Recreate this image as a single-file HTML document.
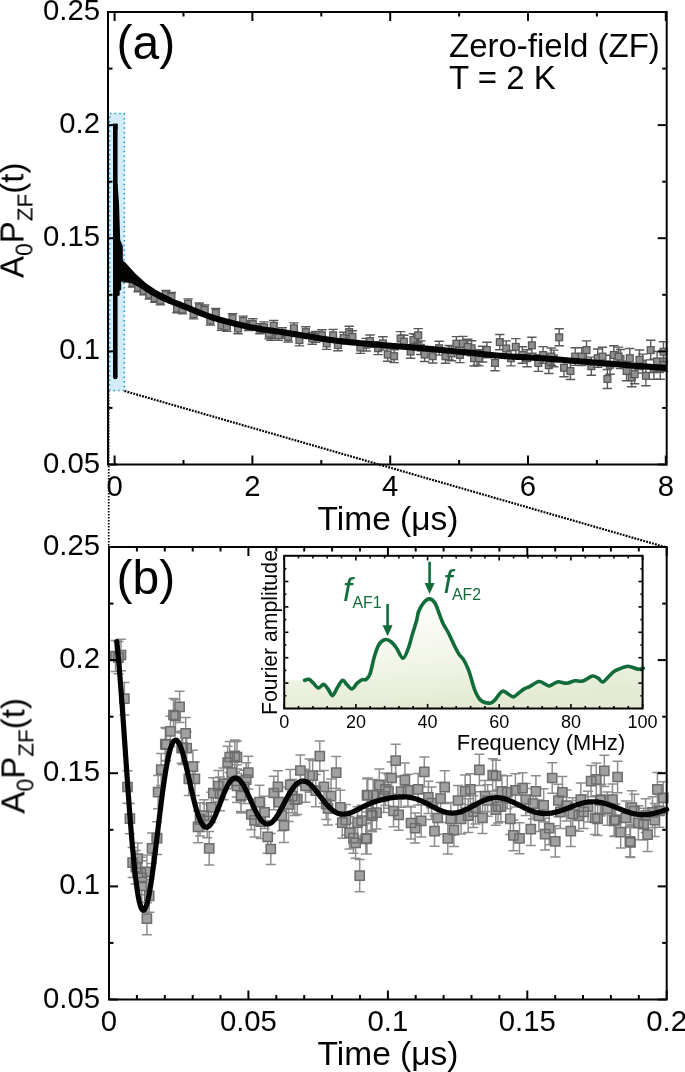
<!DOCTYPE html>
<html><head><meta charset="utf-8"><style>
html,body{margin:0;padding:0;background:#fff;}
body{width:685px;height:1072px;overflow:hidden;}
svg{display:block;}

text{font-family:"Liberation Sans",sans-serif;fill:#000;}
</style></head><body>
<div><svg width="685" height="1072" viewBox="0 0 685 1072">
<g style="opacity:0.99">
<rect x="108" y="112.8" width="16.6" height="278" fill="#d2ecfa"/>
<path d="M109.6,390.5 V113.5 H124.3 V390.5 H109.6" fill="none" stroke="#1e9ad6" stroke-width="1.6" stroke-dasharray="1.5 3.2"/>
<path d="M127.0,274.4V282.1M122.3,274.4h9.4M122.3,282.1h9.4" stroke="#575757" stroke-width="1.4" fill="none"/><rect x="123.6" y="274.8" width="6.8" height="6.8" fill="#8e8e8e" stroke="#575757" stroke-width="1.3"/>
<path d="M132.6,278.9V287.0M127.9,278.9h9.4M127.9,287.0h9.4" stroke="#575757" stroke-width="1.4" fill="none"/><rect x="129.2" y="279.6" width="6.8" height="6.8" fill="#8e8e8e" stroke="#575757" stroke-width="1.3"/>
<path d="M138.1,283.7V291.7M133.4,283.7h9.4M133.4,291.7h9.4" stroke="#575757" stroke-width="1.4" fill="none"/><rect x="134.7" y="284.3" width="6.8" height="6.8" fill="#8e8e8e" stroke="#575757" stroke-width="1.3"/>
<path d="M143.7,287.1V294.9M139.0,287.1h9.4M139.0,294.9h9.4" stroke="#575757" stroke-width="1.4" fill="none"/><rect x="140.3" y="287.6" width="6.8" height="6.8" fill="#8e8e8e" stroke="#575757" stroke-width="1.3"/>
<path d="M149.2,290.5V299.1M144.5,290.5h9.4M144.5,299.1h9.4" stroke="#575757" stroke-width="1.4" fill="none"/><rect x="145.8" y="291.4" width="6.8" height="6.8" fill="#8e8e8e" stroke="#575757" stroke-width="1.3"/>
<path d="M154.8,294.3V302.2M150.1,294.3h9.4M150.1,302.2h9.4" stroke="#575757" stroke-width="1.4" fill="none"/><rect x="151.4" y="294.8" width="6.8" height="6.8" fill="#8e8e8e" stroke="#575757" stroke-width="1.3"/>
<path d="M160.3,296.3V304.9M155.6,296.3h9.4M155.6,304.9h9.4" stroke="#575757" stroke-width="1.4" fill="none"/><rect x="156.9" y="297.2" width="6.8" height="6.8" fill="#8e8e8e" stroke="#575757" stroke-width="1.3"/>
<path d="M165.9,290.5V298.5M161.2,290.5h9.4M161.2,298.5h9.4" stroke="#575757" stroke-width="1.4" fill="none"/><rect x="162.5" y="291.1" width="6.8" height="6.8" fill="#8e8e8e" stroke="#575757" stroke-width="1.3"/>
<path d="M171.4,292.5V301.0M166.7,292.5h9.4M166.7,301.0h9.4" stroke="#575757" stroke-width="1.4" fill="none"/><rect x="168.0" y="293.3" width="6.8" height="6.8" fill="#8e8e8e" stroke="#575757" stroke-width="1.3"/>
<path d="M177.0,304.5V312.8M172.3,304.5h9.4M172.3,312.8h9.4" stroke="#575757" stroke-width="1.4" fill="none"/><rect x="173.6" y="305.2" width="6.8" height="6.8" fill="#8e8e8e" stroke="#575757" stroke-width="1.3"/>
<path d="M182.5,305.4V313.9M177.8,305.4h9.4M177.8,313.9h9.4" stroke="#575757" stroke-width="1.4" fill="none"/><rect x="179.1" y="306.2" width="6.8" height="6.8" fill="#8e8e8e" stroke="#575757" stroke-width="1.3"/>
<path d="M188.1,298.9V308.4M183.4,298.9h9.4M183.4,308.4h9.4" stroke="#575757" stroke-width="1.4" fill="none"/><rect x="184.7" y="300.3" width="6.8" height="6.8" fill="#8e8e8e" stroke="#575757" stroke-width="1.3"/>
<path d="M193.6,309.5V318.9M188.9,309.5h9.4M188.9,318.9h9.4" stroke="#575757" stroke-width="1.4" fill="none"/><rect x="190.2" y="310.8" width="6.8" height="6.8" fill="#8e8e8e" stroke="#575757" stroke-width="1.3"/>
<path d="M199.2,303.0V311.9M194.5,303.0h9.4M194.5,311.9h9.4" stroke="#575757" stroke-width="1.4" fill="none"/><rect x="195.8" y="304.1" width="6.8" height="6.8" fill="#8e8e8e" stroke="#575757" stroke-width="1.3"/>
<path d="M204.7,305.0V314.7M200.0,305.0h9.4M200.0,314.7h9.4" stroke="#575757" stroke-width="1.4" fill="none"/><rect x="201.3" y="306.5" width="6.8" height="6.8" fill="#8e8e8e" stroke="#575757" stroke-width="1.3"/>
<path d="M210.3,316.2V325.1M205.6,316.2h9.4M205.6,325.1h9.4" stroke="#575757" stroke-width="1.4" fill="none"/><rect x="206.9" y="317.2" width="6.8" height="6.8" fill="#8e8e8e" stroke="#575757" stroke-width="1.3"/>
<path d="M215.8,308.5V317.8M211.1,308.5h9.4M211.1,317.8h9.4" stroke="#575757" stroke-width="1.4" fill="none"/><rect x="212.4" y="309.7" width="6.8" height="6.8" fill="#8e8e8e" stroke="#575757" stroke-width="1.3"/>
<path d="M221.4,320.5V330.4M216.7,320.5h9.4M216.7,330.4h9.4" stroke="#575757" stroke-width="1.4" fill="none"/><rect x="218.0" y="322.1" width="6.8" height="6.8" fill="#8e8e8e" stroke="#575757" stroke-width="1.3"/>
<path d="M226.9,321.6V331.4M222.2,321.6h9.4M222.2,331.4h9.4" stroke="#575757" stroke-width="1.4" fill="none"/><rect x="223.5" y="323.1" width="6.8" height="6.8" fill="#8e8e8e" stroke="#575757" stroke-width="1.3"/>
<path d="M232.5,313.7V322.9M227.8,313.7h9.4M227.8,322.9h9.4" stroke="#575757" stroke-width="1.4" fill="none"/><rect x="229.1" y="314.9" width="6.8" height="6.8" fill="#8e8e8e" stroke="#575757" stroke-width="1.3"/>
<path d="M238.0,323.3V333.7M233.3,323.3h9.4M233.3,333.7h9.4" stroke="#575757" stroke-width="1.4" fill="none"/><rect x="234.6" y="325.1" width="6.8" height="6.8" fill="#8e8e8e" stroke="#575757" stroke-width="1.3"/>
<path d="M248.5,320.8V330.5M243.8,320.8h9.4M243.8,330.5h9.4" stroke="#575757" stroke-width="1.4" fill="none"/><rect x="245.1" y="322.3" width="6.8" height="6.8" fill="#8e8e8e" stroke="#575757" stroke-width="1.3"/>
<path d="M259.8,323.8V333.7M255.1,323.8h9.4M255.1,333.7h9.4" stroke="#575757" stroke-width="1.4" fill="none"/><rect x="256.4" y="325.3" width="6.8" height="6.8" fill="#8e8e8e" stroke="#575757" stroke-width="1.3"/>
<path d="M271.0,329.4V340.2M266.3,329.4h9.4M266.3,340.2h9.4" stroke="#575757" stroke-width="1.4" fill="none"/><rect x="267.6" y="331.4" width="6.8" height="6.8" fill="#8e8e8e" stroke="#575757" stroke-width="1.3"/>
<path d="M282.3,327.8V338.3M277.6,327.8h9.4M277.6,338.3h9.4" stroke="#575757" stroke-width="1.4" fill="none"/><rect x="278.9" y="329.7" width="6.8" height="6.8" fill="#8e8e8e" stroke="#575757" stroke-width="1.3"/>
<path d="M293.9,322.9V333.6M289.2,322.9h9.4M289.2,333.6h9.4" stroke="#575757" stroke-width="1.4" fill="none"/><rect x="290.5" y="324.9" width="6.8" height="6.8" fill="#8e8e8e" stroke="#575757" stroke-width="1.3"/>
<path d="M315.7,331.5V342.4M311.0,331.5h9.4M311.0,342.4h9.4" stroke="#575757" stroke-width="1.4" fill="none"/><rect x="312.3" y="333.5" width="6.8" height="6.8" fill="#8e8e8e" stroke="#575757" stroke-width="1.3"/>
<path d="M343.6,332.3V343.8M338.9,332.3h9.4M338.9,343.8h9.4" stroke="#575757" stroke-width="1.4" fill="none"/><rect x="340.2" y="334.6" width="6.8" height="6.8" fill="#8e8e8e" stroke="#575757" stroke-width="1.3"/>
<path d="M366.2,338.4V351.0M361.5,338.4h9.4M361.5,351.0h9.4" stroke="#575757" stroke-width="1.4" fill="none"/><rect x="362.8" y="341.3" width="6.8" height="6.8" fill="#8e8e8e" stroke="#575757" stroke-width="1.3"/>
<path d="M410.6,344.9V358.2M405.9,344.9h9.4M405.9,358.2h9.4" stroke="#575757" stroke-width="1.4" fill="none"/><rect x="407.2" y="348.1" width="6.8" height="6.8" fill="#8e8e8e" stroke="#575757" stroke-width="1.3"/>
<path d="M415.4,334.0V347.7M410.7,334.0h9.4M410.7,347.7h9.4" stroke="#575757" stroke-width="1.4" fill="none"/><rect x="412.0" y="337.4" width="6.8" height="6.8" fill="#8e8e8e" stroke="#575757" stroke-width="1.3"/>
<path d="M420.8,340.9V354.5M416.1,340.9h9.4M416.1,354.5h9.4" stroke="#575757" stroke-width="1.4" fill="none"/><rect x="417.4" y="344.3" width="6.8" height="6.8" fill="#8e8e8e" stroke="#575757" stroke-width="1.3"/>
<path d="M449.2,345.5V359.9M444.5,345.5h9.4M444.5,359.9h9.4" stroke="#575757" stroke-width="1.4" fill="none"/><rect x="445.8" y="349.3" width="6.8" height="6.8" fill="#8e8e8e" stroke="#575757" stroke-width="1.3"/>
<path d="M459.9,347.3V362.6M455.2,347.3h9.4M455.2,362.6h9.4" stroke="#575757" stroke-width="1.4" fill="none"/><rect x="456.5" y="351.5" width="6.8" height="6.8" fill="#8e8e8e" stroke="#575757" stroke-width="1.3"/>
<path d="M471.6,340.8V355.8M466.9,340.8h9.4M466.9,355.8h9.4" stroke="#575757" stroke-width="1.4" fill="none"/><rect x="468.2" y="344.9" width="6.8" height="6.8" fill="#8e8e8e" stroke="#575757" stroke-width="1.3"/>
<path d="M477.1,349.8V365.1M472.4,349.8h9.4M472.4,365.1h9.4" stroke="#575757" stroke-width="1.4" fill="none"/><rect x="473.7" y="354.0" width="6.8" height="6.8" fill="#8e8e8e" stroke="#575757" stroke-width="1.3"/>
<path d="M482.7,346.3V362.0M478.0,346.3h9.4M478.0,362.0h9.4" stroke="#575757" stroke-width="1.4" fill="none"/><rect x="479.3" y="350.7" width="6.8" height="6.8" fill="#8e8e8e" stroke="#575757" stroke-width="1.3"/>
<path d="M548.8,356.9V373.5M544.1,356.9h9.4M544.1,373.5h9.4" stroke="#575757" stroke-width="1.4" fill="none"/><rect x="545.4" y="361.8" width="6.8" height="6.8" fill="#8e8e8e" stroke="#575757" stroke-width="1.3"/>
<path d="M553.8,350.1V366.7M549.1,350.1h9.4M549.1,366.7h9.4" stroke="#575757" stroke-width="1.4" fill="none"/><rect x="550.4" y="355.0" width="6.8" height="6.8" fill="#8e8e8e" stroke="#575757" stroke-width="1.3"/>
<path d="M610.0,355.3V374.3M605.3,355.3h9.4M605.3,374.3h9.4" stroke="#575757" stroke-width="1.4" fill="none"/><rect x="606.6" y="361.4" width="6.8" height="6.8" fill="#8e8e8e" stroke="#575757" stroke-width="1.3"/>
<path d="M620.5,349.5V368.6M615.8,349.5h9.4M615.8,368.6h9.4" stroke="#575757" stroke-width="1.4" fill="none"/><rect x="617.1" y="355.7" width="6.8" height="6.8" fill="#8e8e8e" stroke="#575757" stroke-width="1.3"/>
<path d="M631.8,368.0V386.7M627.1,368.0h9.4M627.1,386.7h9.4" stroke="#575757" stroke-width="1.4" fill="none"/><rect x="628.4" y="374.0" width="6.8" height="6.8" fill="#8e8e8e" stroke="#575757" stroke-width="1.3"/>
<path d="M642.7,354.1V373.0M638.0,354.1h9.4M638.0,373.0h9.4" stroke="#575757" stroke-width="1.4" fill="none"/><rect x="639.3" y="360.2" width="6.8" height="6.8" fill="#8e8e8e" stroke="#575757" stroke-width="1.3"/>
<path d="M653.9,359.3V379.2M649.2,359.3h9.4M649.2,379.2h9.4" stroke="#575757" stroke-width="1.4" fill="none"/><rect x="650.5" y="365.9" width="6.8" height="6.8" fill="#8e8e8e" stroke="#575757" stroke-width="1.3"/>
<path d="M660.2,358.9V379.3M655.5,358.9h9.4M655.5,379.3h9.4" stroke="#575757" stroke-width="1.4" fill="none"/><rect x="656.8" y="365.7" width="6.8" height="6.8" fill="#8e8e8e" stroke="#575757" stroke-width="1.3"/>
<path d="M243.2,316.1V325.7M238.5,316.1h9.4M238.5,325.7h9.4" stroke="#575757" stroke-width="1.4" fill="none"/><rect x="239.8" y="317.5" width="6.8" height="6.8" fill="#8e8e8e" stroke="#575757" stroke-width="1.3"/>
<path d="M252.8,318.8V329.4M248.1,318.8h9.4M248.1,329.4h9.4" stroke="#575757" stroke-width="1.4" fill="none"/><rect x="249.4" y="320.7" width="6.8" height="6.8" fill="#8e8e8e" stroke="#575757" stroke-width="1.3"/>
<path d="M264.1,321.9V332.7M259.4,321.9h9.4M259.4,332.7h9.4" stroke="#575757" stroke-width="1.4" fill="none"/><rect x="260.7" y="323.9" width="6.8" height="6.8" fill="#8e8e8e" stroke="#575757" stroke-width="1.3"/>
<path d="M273.7,320.4V331.0M269.0,320.4h9.4M269.0,331.0h9.4" stroke="#575757" stroke-width="1.4" fill="none"/><rect x="270.3" y="322.3" width="6.8" height="6.8" fill="#8e8e8e" stroke="#575757" stroke-width="1.3"/>
<path d="M268.9,328.5V338.9M264.2,328.5h9.4M264.2,338.9h9.4" stroke="#575757" stroke-width="1.4" fill="none"/><rect x="265.5" y="330.3" width="6.8" height="6.8" fill="#8e8e8e" stroke="#575757" stroke-width="1.3"/>
<path d="M278.5,330.2V340.4M273.8,330.2h9.4M273.8,340.4h9.4" stroke="#575757" stroke-width="1.4" fill="none"/><rect x="275.1" y="331.9" width="6.8" height="6.8" fill="#8e8e8e" stroke="#575757" stroke-width="1.3"/>
<path d="M288.2,331.8V342.0M283.5,331.8h9.4M283.5,342.0h9.4" stroke="#575757" stroke-width="1.4" fill="none"/><rect x="284.8" y="333.5" width="6.8" height="6.8" fill="#8e8e8e" stroke="#575757" stroke-width="1.3"/>
<path d="M299.4,334.3V345.9M294.7,334.3h9.4M294.7,345.9h9.4" stroke="#575757" stroke-width="1.4" fill="none"/><rect x="296.0" y="336.7" width="6.8" height="6.8" fill="#8e8e8e" stroke="#575757" stroke-width="1.3"/>
<path d="M305.8,326.7V337.5M301.1,326.7h9.4M301.1,337.5h9.4" stroke="#575757" stroke-width="1.4" fill="none"/><rect x="302.4" y="328.7" width="6.8" height="6.8" fill="#8e8e8e" stroke="#575757" stroke-width="1.3"/>
<path d="M312.3,332.7V344.3M307.6,332.7h9.4M307.6,344.3h9.4" stroke="#575757" stroke-width="1.4" fill="none"/><rect x="308.9" y="335.1" width="6.8" height="6.8" fill="#8e8e8e" stroke="#575757" stroke-width="1.3"/>
<path d="M321.9,329.7V340.9M317.2,329.7h9.4M317.2,340.9h9.4" stroke="#575757" stroke-width="1.4" fill="none"/><rect x="318.5" y="331.9" width="6.8" height="6.8" fill="#8e8e8e" stroke="#575757" stroke-width="1.3"/>
<path d="M326.7,337.4V349.4M322.0,337.4h9.4M322.0,349.4h9.4" stroke="#575757" stroke-width="1.4" fill="none"/><rect x="323.3" y="340.0" width="6.8" height="6.8" fill="#8e8e8e" stroke="#575757" stroke-width="1.3"/>
<path d="M333.1,329.4V341.2M328.4,329.4h9.4M328.4,341.2h9.4" stroke="#575757" stroke-width="1.4" fill="none"/><rect x="329.7" y="331.9" width="6.8" height="6.8" fill="#8e8e8e" stroke="#575757" stroke-width="1.3"/>
<path d="M337.9,339.2V350.8M333.2,339.2h9.4M333.2,350.8h9.4" stroke="#575757" stroke-width="1.4" fill="none"/><rect x="334.5" y="341.6" width="6.8" height="6.8" fill="#8e8e8e" stroke="#575757" stroke-width="1.3"/>
<path d="M349.2,326.2V338.0M344.5,326.2h9.4M344.5,338.0h9.4" stroke="#575757" stroke-width="1.4" fill="none"/><rect x="345.8" y="328.7" width="6.8" height="6.8" fill="#8e8e8e" stroke="#575757" stroke-width="1.3"/>
<path d="M352.4,330.7V343.1M347.7,330.7h9.4M347.7,343.1h9.4" stroke="#575757" stroke-width="1.4" fill="none"/><rect x="349.0" y="333.5" width="6.8" height="6.8" fill="#8e8e8e" stroke="#575757" stroke-width="1.3"/>
<path d="M360.4,341.6V353.4M355.7,341.6h9.4M355.7,353.4h9.4" stroke="#575757" stroke-width="1.4" fill="none"/><rect x="357.0" y="344.1" width="6.8" height="6.8" fill="#8e8e8e" stroke="#575757" stroke-width="1.3"/>
<path d="M370.0,335.0V347.2M365.3,335.0h9.4M365.3,347.2h9.4" stroke="#575757" stroke-width="1.4" fill="none"/><rect x="366.6" y="337.7" width="6.8" height="6.8" fill="#8e8e8e" stroke="#575757" stroke-width="1.3"/>
<path d="M378.1,341.8V354.6M373.4,341.8h9.4M373.4,354.6h9.4" stroke="#575757" stroke-width="1.4" fill="none"/><rect x="374.7" y="344.8" width="6.8" height="6.8" fill="#8e8e8e" stroke="#575757" stroke-width="1.3"/>
<path d="M382.9,336.7V350.1M378.2,336.7h9.4M378.2,350.1h9.4" stroke="#575757" stroke-width="1.4" fill="none"/><rect x="379.5" y="340.0" width="6.8" height="6.8" fill="#8e8e8e" stroke="#575757" stroke-width="1.3"/>
<path d="M387.7,348.0V361.2M383.0,348.0h9.4M383.0,361.2h9.4" stroke="#575757" stroke-width="1.4" fill="none"/><rect x="384.3" y="351.2" width="6.8" height="6.8" fill="#8e8e8e" stroke="#575757" stroke-width="1.3"/>
<path d="M394.1,349.8V362.6M389.4,349.8h9.4M389.4,362.6h9.4" stroke="#575757" stroke-width="1.4" fill="none"/><rect x="390.7" y="352.8" width="6.8" height="6.8" fill="#8e8e8e" stroke="#575757" stroke-width="1.3"/>
<path d="M400.6,331.6V345.4M395.9,331.6h9.4M395.9,345.4h9.4" stroke="#575757" stroke-width="1.4" fill="none"/><rect x="397.2" y="335.1" width="6.8" height="6.8" fill="#8e8e8e" stroke="#575757" stroke-width="1.3"/>
<path d="M403.8,335.2V348.2M399.1,335.2h9.4M399.1,348.2h9.4" stroke="#575757" stroke-width="1.4" fill="none"/><rect x="400.4" y="338.3" width="6.8" height="6.8" fill="#8e8e8e" stroke="#575757" stroke-width="1.3"/>
<path d="M413.4,333.6V346.6M408.7,333.6h9.4M408.7,346.6h9.4" stroke="#575757" stroke-width="1.4" fill="none"/><rect x="410.0" y="336.7" width="6.8" height="6.8" fill="#8e8e8e" stroke="#575757" stroke-width="1.3"/>
<path d="M418.2,328.6V342.0M413.5,328.6h9.4M413.5,342.0h9.4" stroke="#575757" stroke-width="1.4" fill="none"/><rect x="414.8" y="331.9" width="6.8" height="6.8" fill="#8e8e8e" stroke="#575757" stroke-width="1.3"/>
<path d="M424.6,347.7V361.5M419.9,347.7h9.4M419.9,361.5h9.4" stroke="#575757" stroke-width="1.4" fill="none"/><rect x="421.2" y="351.2" width="6.8" height="6.8" fill="#8e8e8e" stroke="#575757" stroke-width="1.3"/>
<path d="M432.7,349.4V363.0M428.0,349.4h9.4M428.0,363.0h9.4" stroke="#575757" stroke-width="1.4" fill="none"/><rect x="429.3" y="352.8" width="6.8" height="6.8" fill="#8e8e8e" stroke="#575757" stroke-width="1.3"/>
<path d="M439.1,341.3V355.1M434.4,341.3h9.4M434.4,355.1h9.4" stroke="#575757" stroke-width="1.4" fill="none"/><rect x="435.7" y="344.8" width="6.8" height="6.8" fill="#8e8e8e" stroke="#575757" stroke-width="1.3"/>
<path d="M445.5,349.1V363.3M440.8,349.1h9.4M440.8,363.3h9.4" stroke="#575757" stroke-width="1.4" fill="none"/><rect x="442.1" y="352.8" width="6.8" height="6.8" fill="#8e8e8e" stroke="#575757" stroke-width="1.3"/>
<path d="M451.6,346.1V360.7M446.9,346.1h9.4M446.9,360.7h9.4" stroke="#575757" stroke-width="1.4" fill="none"/><rect x="448.2" y="350.0" width="6.8" height="6.8" fill="#8e8e8e" stroke="#575757" stroke-width="1.3"/>
<path d="M456.4,336.6V350.8M451.7,336.6h9.4M451.7,350.8h9.4" stroke="#575757" stroke-width="1.4" fill="none"/><rect x="453.0" y="340.3" width="6.8" height="6.8" fill="#8e8e8e" stroke="#575757" stroke-width="1.3"/>
<path d="M462.8,336.4V351.0M458.1,336.4h9.4M458.1,351.0h9.4" stroke="#575757" stroke-width="1.4" fill="none"/><rect x="459.4" y="340.3" width="6.8" height="6.8" fill="#8e8e8e" stroke="#575757" stroke-width="1.3"/>
<path d="M467.7,339.2V354.6M463.0,339.2h9.4M463.0,354.6h9.4" stroke="#575757" stroke-width="1.4" fill="none"/><rect x="464.3" y="343.5" width="6.8" height="6.8" fill="#8e8e8e" stroke="#575757" stroke-width="1.3"/>
<path d="M474.1,350.4V366.0M469.4,350.4h9.4M469.4,366.0h9.4" stroke="#575757" stroke-width="1.4" fill="none"/><rect x="470.7" y="354.8" width="6.8" height="6.8" fill="#8e8e8e" stroke="#575757" stroke-width="1.3"/>
<path d="M478.9,350.5V365.9M474.2,350.5h9.4M474.2,365.9h9.4" stroke="#575757" stroke-width="1.4" fill="none"/><rect x="475.5" y="354.8" width="6.8" height="6.8" fill="#8e8e8e" stroke="#575757" stroke-width="1.3"/>
<path d="M486.9,342.3V357.9M482.2,342.3h9.4M482.2,357.9h9.4" stroke="#575757" stroke-width="1.4" fill="none"/><rect x="483.5" y="346.7" width="6.8" height="6.8" fill="#8e8e8e" stroke="#575757" stroke-width="1.3"/>
<path d="M495.0,355.2V370.8M490.3,355.2h9.4M490.3,370.8h9.4" stroke="#575757" stroke-width="1.4" fill="none"/><rect x="491.6" y="359.6" width="6.8" height="6.8" fill="#8e8e8e" stroke="#575757" stroke-width="1.3"/>
<path d="M499.8,334.5V349.7M495.1,334.5h9.4M495.1,349.7h9.4" stroke="#575757" stroke-width="1.4" fill="none"/><rect x="496.4" y="338.7" width="6.8" height="6.8" fill="#8e8e8e" stroke="#575757" stroke-width="1.3"/>
<path d="M506.2,340.9V356.1M501.5,340.9h9.4M501.5,356.1h9.4" stroke="#575757" stroke-width="1.4" fill="none"/><rect x="502.8" y="345.1" width="6.8" height="6.8" fill="#8e8e8e" stroke="#575757" stroke-width="1.3"/>
<path d="M511.0,350.5V365.9M506.3,350.5h9.4M506.3,365.9h9.4" stroke="#575757" stroke-width="1.4" fill="none"/><rect x="507.6" y="354.8" width="6.8" height="6.8" fill="#8e8e8e" stroke="#575757" stroke-width="1.3"/>
<path d="M515.8,338.6V355.2M511.1,338.6h9.4M511.1,355.2h9.4" stroke="#575757" stroke-width="1.4" fill="none"/><rect x="512.4" y="343.5" width="6.8" height="6.8" fill="#8e8e8e" stroke="#575757" stroke-width="1.3"/>
<path d="M522.3,346.8V363.2M517.6,346.8h9.4M517.6,363.2h9.4" stroke="#575757" stroke-width="1.4" fill="none"/><rect x="518.9" y="351.6" width="6.8" height="6.8" fill="#8e8e8e" stroke="#575757" stroke-width="1.3"/>
<path d="M527.1,349.7V366.7M522.4,349.7h9.4M522.4,366.7h9.4" stroke="#575757" stroke-width="1.4" fill="none"/><rect x="523.7" y="354.8" width="6.8" height="6.8" fill="#8e8e8e" stroke="#575757" stroke-width="1.3"/>
<path d="M531.9,337.3V353.3M527.2,337.3h9.4M527.2,353.3h9.4" stroke="#575757" stroke-width="1.4" fill="none"/><rect x="528.5" y="341.9" width="6.8" height="6.8" fill="#8e8e8e" stroke="#575757" stroke-width="1.3"/>
<path d="M538.3,354.6V371.4M533.6,354.6h9.4M533.6,371.4h9.4" stroke="#575757" stroke-width="1.4" fill="none"/><rect x="534.9" y="359.6" width="6.8" height="6.8" fill="#8e8e8e" stroke="#575757" stroke-width="1.3"/>
<path d="M543.1,346.6V363.4M538.4,346.6h9.4M538.4,363.4h9.4" stroke="#575757" stroke-width="1.4" fill="none"/><rect x="539.7" y="351.6" width="6.8" height="6.8" fill="#8e8e8e" stroke="#575757" stroke-width="1.3"/>
<path d="M551.2,348.0V365.2M546.5,348.0h9.4M546.5,365.2h9.4" stroke="#575757" stroke-width="1.4" fill="none"/><rect x="547.8" y="353.2" width="6.8" height="6.8" fill="#8e8e8e" stroke="#575757" stroke-width="1.3"/>
<path d="M559.2,328.8V345.8M554.5,328.8h9.4M554.5,345.8h9.4" stroke="#575757" stroke-width="1.4" fill="none"/><rect x="555.8" y="333.9" width="6.8" height="6.8" fill="#8e8e8e" stroke="#575757" stroke-width="1.3"/>
<path d="M564.0,358.8V376.8M559.3,358.8h9.4M559.3,376.8h9.4" stroke="#575757" stroke-width="1.4" fill="none"/><rect x="560.6" y="364.4" width="6.8" height="6.8" fill="#8e8e8e" stroke="#575757" stroke-width="1.3"/>
<path d="M570.4,362.5V379.5M565.7,362.5h9.4M565.7,379.5h9.4" stroke="#575757" stroke-width="1.4" fill="none"/><rect x="567.0" y="367.6" width="6.8" height="6.8" fill="#8e8e8e" stroke="#575757" stroke-width="1.3"/>
<path d="M575.2,347.8V365.4M570.5,347.8h9.4M570.5,365.4h9.4" stroke="#575757" stroke-width="1.4" fill="none"/><rect x="571.8" y="353.2" width="6.8" height="6.8" fill="#8e8e8e" stroke="#575757" stroke-width="1.3"/>
<path d="M581.7,347.6V365.6M577.0,347.6h9.4M577.0,365.6h9.4" stroke="#575757" stroke-width="1.4" fill="none"/><rect x="578.3" y="353.2" width="6.8" height="6.8" fill="#8e8e8e" stroke="#575757" stroke-width="1.3"/>
<path d="M586.5,340.9V359.3M581.8,340.9h9.4M581.8,359.3h9.4" stroke="#575757" stroke-width="1.4" fill="none"/><rect x="583.1" y="346.7" width="6.8" height="6.8" fill="#8e8e8e" stroke="#575757" stroke-width="1.3"/>
<path d="M591.3,357.1V375.3M586.6,357.1h9.4M586.6,375.3h9.4" stroke="#575757" stroke-width="1.4" fill="none"/><rect x="587.9" y="362.8" width="6.8" height="6.8" fill="#8e8e8e" stroke="#575757" stroke-width="1.3"/>
<path d="M597.7,349.0V367.4M593.0,349.0h9.4M593.0,367.4h9.4" stroke="#575757" stroke-width="1.4" fill="none"/><rect x="594.3" y="354.8" width="6.8" height="6.8" fill="#8e8e8e" stroke="#575757" stroke-width="1.3"/>
<path d="M602.5,347.3V365.9M597.8,347.3h9.4M597.8,365.9h9.4" stroke="#575757" stroke-width="1.4" fill="none"/><rect x="599.1" y="353.2" width="6.8" height="6.8" fill="#8e8e8e" stroke="#575757" stroke-width="1.3"/>
<path d="M607.4,369.5V388.5M602.7,369.5h9.4M602.7,388.5h9.4" stroke="#575757" stroke-width="1.4" fill="none"/><rect x="604.0" y="375.6" width="6.8" height="6.8" fill="#8e8e8e" stroke="#575757" stroke-width="1.3"/>
<path d="M613.8,345.8V364.2M609.1,345.8h9.4M609.1,364.2h9.4" stroke="#575757" stroke-width="1.4" fill="none"/><rect x="610.4" y="351.6" width="6.8" height="6.8" fill="#8e8e8e" stroke="#575757" stroke-width="1.3"/>
<path d="M618.6,347.1V366.1M613.9,347.1h9.4M613.9,366.1h9.4" stroke="#575757" stroke-width="1.4" fill="none"/><rect x="615.2" y="353.2" width="6.8" height="6.8" fill="#8e8e8e" stroke="#575757" stroke-width="1.3"/>
<path d="M626.6,361.3V380.7M621.9,361.3h9.4M621.9,380.7h9.4" stroke="#575757" stroke-width="1.4" fill="none"/><rect x="623.2" y="367.6" width="6.8" height="6.8" fill="#8e8e8e" stroke="#575757" stroke-width="1.3"/>
<path d="M629.8,348.5V367.9M625.1,348.5h9.4M625.1,367.9h9.4" stroke="#575757" stroke-width="1.4" fill="none"/><rect x="626.4" y="354.8" width="6.8" height="6.8" fill="#8e8e8e" stroke="#575757" stroke-width="1.3"/>
<path d="M634.6,364.7V383.7M629.9,364.7h9.4M629.9,383.7h9.4" stroke="#575757" stroke-width="1.4" fill="none"/><rect x="631.2" y="370.8" width="6.8" height="6.8" fill="#8e8e8e" stroke="#575757" stroke-width="1.3"/>
<path d="M639.5,350.0V369.6M634.8,350.0h9.4M634.8,369.6h9.4" stroke="#575757" stroke-width="1.4" fill="none"/><rect x="636.1" y="356.4" width="6.8" height="6.8" fill="#8e8e8e" stroke="#575757" stroke-width="1.3"/>
<path d="M645.9,365.9V385.7M641.2,365.9h9.4M641.2,385.7h9.4" stroke="#575757" stroke-width="1.4" fill="none"/><rect x="642.5" y="372.4" width="6.8" height="6.8" fill="#8e8e8e" stroke="#575757" stroke-width="1.3"/>
<path d="M650.7,340.3V359.9M646.0,340.3h9.4M646.0,359.9h9.4" stroke="#575757" stroke-width="1.4" fill="none"/><rect x="647.3" y="346.7" width="6.8" height="6.8" fill="#8e8e8e" stroke="#575757" stroke-width="1.3"/>
<path d="M657.1,351.5V371.3M652.4,351.5h9.4M652.4,371.3h9.4" stroke="#575757" stroke-width="1.4" fill="none"/><rect x="653.7" y="358.0" width="6.8" height="6.8" fill="#8e8e8e" stroke="#575757" stroke-width="1.3"/>
<path d="M663.5,351.5V371.3M658.8,351.5h9.4M658.8,371.3h9.4" stroke="#575757" stroke-width="1.4" fill="none"/><rect x="660.1" y="358.0" width="6.8" height="6.8" fill="#8e8e8e" stroke="#575757" stroke-width="1.3"/>
<path d="M663.5,341.7V361.7M658.8,341.7h9.4M658.8,361.7h9.4" stroke="#575757" stroke-width="1.4" fill="none"/><rect x="660.1" y="348.3" width="6.8" height="6.8" fill="#8e8e8e" stroke="#575757" stroke-width="1.3"/>
<path d="M122.80,270.90 L124.16,271.74 L125.53,272.65 L126.89,273.64 L128.25,274.73 L129.62,275.86 L130.98,276.97 L132.34,278.09 L133.71,279.20 L135.07,280.27 L136.43,281.27 L137.79,282.21 L139.16,283.13 L140.52,284.07 L141.88,285.08 L143.25,286.12 L144.61,287.15 L145.97,288.12 L147.34,289.02 L148.70,289.89 L150.06,290.73 L151.43,291.56 L152.79,292.37 L154.15,293.16 L155.52,293.93 L156.88,294.68 L158.24,295.42 L159.61,296.14 L160.97,296.83 L162.33,297.50 L163.69,298.15 L165.06,298.78 L166.42,299.40 L167.78,300.01 L169.15,300.60 L170.51,301.18 L171.87,301.73 L173.24,302.24 L174.60,302.74 L175.96,303.23 L177.33,303.71 L178.69,304.21 L180.05,304.72 L181.42,305.26 L182.78,305.80 L184.14,306.36 L185.51,306.92 L186.87,307.47 L188.23,308.02 L189.59,308.58 L190.96,309.14 L192.32,309.71 L193.68,310.28 L195.05,310.86 L196.41,311.43 L197.77,312.00 L199.14,312.56 L200.50,313.11 L201.86,313.66 L203.23,314.20 L204.59,314.73 L205.95,315.24 L207.32,315.74 L208.68,316.22 L210.04,316.68 L211.41,317.13 L212.77,317.57 L214.13,317.99 L215.49,318.41 L216.86,318.83 L218.22,319.23 L219.58,319.63 L220.95,320.02 L222.31,320.40 L223.67,320.78 L225.04,321.15 L226.40,321.51 L227.76,321.87 L229.13,322.22 L230.49,322.57 L231.85,322.92 L233.22,323.25 L234.58,323.59 L235.94,323.92 L237.31,324.25 L238.67,324.58 L240.03,324.90 L241.39,325.21 L242.76,325.53 L244.12,325.83 L245.48,326.14 L246.85,326.43 L248.21,326.72 L249.57,327.01 L250.94,327.29 L252.30,327.56 L253.66,327.82 L255.03,328.08 L256.39,328.33 L257.75,328.57 L259.12,328.80 L260.48,329.02 L261.84,329.24 L263.21,329.45 L264.57,329.65 L265.93,329.85 L267.29,330.05 L268.66,330.24 L270.02,330.44 L271.38,330.63 L272.75,330.82 L274.11,331.01 L275.47,331.20 L276.84,331.40 L278.20,331.60 L279.56,331.80 L280.93,332.01 L282.29,332.22 L283.65,332.43 L285.02,332.64 L286.38,332.85 L287.74,333.07 L289.11,333.28 L290.47,333.49 L291.83,333.71 L293.19,333.92 L294.56,334.14 L295.92,334.35 L297.28,334.57 L298.65,334.79 L300.01,335.00 L301.37,335.22 L302.74,335.44 L304.10,335.67 L305.46,335.90 L306.83,336.13 L308.19,336.36 L309.55,336.60 L310.92,336.83 L312.28,337.07 L313.64,337.30 L315.01,337.54 L316.37,337.77 L317.73,338.00 L319.09,338.23 L320.46,338.45 L321.82,338.68 L323.18,338.89 L324.55,339.11 L325.91,339.31 L327.27,339.52 L328.64,339.71 L330.00,339.90 L331.36,340.08 L332.73,340.25 L334.09,340.42 L335.45,340.59 L336.82,340.75 L338.18,340.91 L339.54,341.07 L340.91,341.22 L342.27,341.38 L343.63,341.53 L344.99,341.67 L346.36,341.82 L347.72,341.96 L349.08,342.10 L350.45,342.24 L351.81,342.38 L353.17,342.52 L354.54,342.65 L355.90,342.78 L357.26,342.91 L358.63,343.04 L359.99,343.17 L361.35,343.30 L362.72,343.43 L364.08,343.55 L365.44,343.67 L366.81,343.80 L368.17,343.92 L369.53,344.04 L370.89,344.16 L372.26,344.28 L373.62,344.40 L374.98,344.53 L376.35,344.64 L377.71,344.76 L379.07,344.87 L380.44,344.99 L381.80,345.10 L383.16,345.21 L384.53,345.31 L385.89,345.42 L387.25,345.53 L388.62,345.63 L389.98,345.73 L391.34,345.83 L392.71,345.94 L394.07,346.04 L395.43,346.14 L396.79,346.24 L398.16,346.34 L399.52,346.44 L400.88,346.54 L402.25,346.64 L403.61,346.74 L404.97,346.85 L406.34,346.95 L407.70,347.05 L409.06,347.16 L410.43,347.27 L411.79,347.37 L413.15,347.48 L414.52,347.59 L415.88,347.71 L417.24,347.82 L418.61,347.94 L419.97,348.05 L421.33,348.17 L422.69,348.29 L424.06,348.41 L425.42,348.53 L426.78,348.65 L428.15,348.77 L429.51,348.90 L430.87,349.02 L432.24,349.15 L433.60,349.27 L434.96,349.40 L436.33,349.52 L437.69,349.65 L439.05,349.78 L440.42,349.90 L441.78,350.03 L443.14,350.16 L444.51,350.29 L445.87,350.42 L447.23,350.55 L448.59,350.68 L449.96,350.81 L451.32,350.94 L452.68,351.07 L454.05,351.20 L455.41,351.33 L456.77,351.46 L458.14,351.59 L459.50,351.72 L460.86,351.85 L462.23,351.99 L463.59,352.12 L464.95,352.26 L466.32,352.40 L467.68,352.54 L469.04,352.69 L470.41,352.83 L471.77,352.98 L473.13,353.12 L474.49,353.27 L475.86,353.42 L477.22,353.56 L478.58,353.71 L479.95,353.86 L481.31,354.00 L482.67,354.14 L484.04,354.29 L485.40,354.43 L486.76,354.57 L488.13,354.70 L489.49,354.84 L490.85,354.97 L492.22,355.10 L493.58,355.22 L494.94,355.35 L496.31,355.47 L497.67,355.58 L499.03,355.69 L500.39,355.80 L501.76,355.90 L503.12,356.00 L504.48,356.10 L505.85,356.19 L507.21,356.28 L508.57,356.37 L509.94,356.45 L511.30,356.54 L512.66,356.62 L514.03,356.69 L515.39,356.77 L516.75,356.85 L518.12,356.92 L519.48,356.99 L520.84,357.07 L522.21,357.14 L523.57,357.21 L524.93,357.28 L526.29,357.36 L527.66,357.43 L529.02,357.50 L530.38,357.57 L531.75,357.65 L533.11,357.73 L534.47,357.80 L535.84,357.88 L537.20,357.96 L538.56,358.04 L539.93,358.13 L541.29,358.22 L542.65,358.31 L544.02,358.40 L545.38,358.50 L546.74,358.60 L548.11,358.70 L549.47,358.80 L550.83,358.91 L552.19,359.02 L553.56,359.13 L554.92,359.24 L556.28,359.36 L557.65,359.47 L559.01,359.59 L560.37,359.71 L561.74,359.83 L563.10,359.95 L564.46,360.07 L565.83,360.19 L567.19,360.31 L568.55,360.43 L569.92,360.55 L571.28,360.67 L572.64,360.78 L574.01,360.90 L575.37,361.02 L576.73,361.13 L578.09,361.24 L579.46,361.36 L580.82,361.47 L582.18,361.58 L583.55,361.68 L584.91,361.79 L586.27,361.90 L587.64,362.01 L589.00,362.12 L590.36,362.23 L591.73,362.34 L593.09,362.45 L594.45,362.55 L595.82,362.66 L597.18,362.77 L598.54,362.88 L599.91,362.99 L601.27,363.09 L602.63,363.20 L603.99,363.31 L605.36,363.42 L606.72,363.52 L608.08,363.63 L609.45,363.74 L610.81,363.84 L612.17,363.95 L613.54,364.06 L614.90,364.16 L616.26,364.27 L617.63,364.37 L618.99,364.48 L620.35,364.58 L621.72,364.69 L623.08,364.79 L624.44,364.90 L625.81,365.00 L627.17,365.11 L628.53,365.21 L629.89,365.32 L631.26,365.42 L632.62,365.53 L633.98,365.63 L635.35,365.73 L636.71,365.84 L638.07,365.94 L639.44,366.04 L640.80,366.14 L642.16,366.25 L643.53,366.35 L644.89,366.45 L646.25,366.55 L647.62,366.65 L648.98,366.75 L650.34,366.86 L651.71,366.96 L653.07,367.06 L654.43,367.16 L655.79,367.26 L657.16,367.36 L658.52,367.46 L659.88,367.56 L661.25,367.66 L662.61,367.75 L663.97,367.85 L665.34,367.95 L666.70,368.00" fill="none" stroke="#000" stroke-width="6.1" stroke-linejoin="round"/>
<path d="M115.3,124 V377" stroke="#000" stroke-width="4.6" fill="none"/><circle cx="115.3" cy="377" r="2.3" fill="#000"/>
<rect x="113" y="123.6" width="4.6" height="6" fill="#000"/>
<path d="M113.4,184 L117.6,184 L119,203 L120.2,240 L122.8,246 L122.8,260.4 L126.3,263.5 L135.5,273.7 L145.8,282.9 L156,290.1 L166.2,295.2 L172,298 L171.3,303.9 L161.1,298.8 L150.9,293.6 L140.7,288 L130.4,282.9 L122.8,281.4 L121.2,282 L121.2,290 L119.7,290.5 L119.7,295.2 L118.2,296 L113.4,296 Z" fill="#000"/>
<rect x="108" y="12" width="558.7" height="452.5" fill="none" stroke="#000" stroke-width="2"/>
<line x1="108" y1="12.0" x2="117" y2="12.0" stroke="#000" stroke-width="2"/>
<line x1="666.7" y1="12.0" x2="657.7" y2="12.0" stroke="#000" stroke-width="2"/>
<line x1="108" y1="125.1" x2="117" y2="125.1" stroke="#000" stroke-width="2"/>
<line x1="666.7" y1="125.1" x2="657.7" y2="125.1" stroke="#000" stroke-width="2"/>
<line x1="108" y1="238.2" x2="117" y2="238.2" stroke="#000" stroke-width="2"/>
<line x1="666.7" y1="238.2" x2="657.7" y2="238.2" stroke="#000" stroke-width="2"/>
<line x1="108" y1="351.4" x2="117" y2="351.4" stroke="#000" stroke-width="2"/>
<line x1="666.7" y1="351.4" x2="657.7" y2="351.4" stroke="#000" stroke-width="2"/>
<line x1="108" y1="464.5" x2="117" y2="464.5" stroke="#000" stroke-width="2"/>
<line x1="666.7" y1="464.5" x2="657.7" y2="464.5" stroke="#000" stroke-width="2"/>
<line x1="108" y1="68.6" x2="112.5" y2="68.6" stroke="#000" stroke-width="2"/>
<line x1="666.7" y1="68.6" x2="662.2" y2="68.6" stroke="#000" stroke-width="2"/>
<line x1="108" y1="181.7" x2="112.5" y2="181.7" stroke="#000" stroke-width="2"/>
<line x1="666.7" y1="181.7" x2="662.2" y2="181.7" stroke="#000" stroke-width="2"/>
<line x1="108" y1="294.8" x2="112.5" y2="294.8" stroke="#000" stroke-width="2"/>
<line x1="666.7" y1="294.8" x2="662.2" y2="294.8" stroke="#000" stroke-width="2"/>
<line x1="108" y1="407.9" x2="112.5" y2="407.9" stroke="#000" stroke-width="2"/>
<line x1="666.7" y1="407.9" x2="662.2" y2="407.9" stroke="#000" stroke-width="2"/>
<line x1="114.6" y1="464.5" x2="114.6" y2="455.5" stroke="#000" stroke-width="2"/>
<line x1="114.6" y1="12" x2="114.6" y2="21" stroke="#000" stroke-width="2"/>
<line x1="252.4" y1="464.5" x2="252.4" y2="455.5" stroke="#000" stroke-width="2"/>
<line x1="252.4" y1="12" x2="252.4" y2="21" stroke="#000" stroke-width="2"/>
<line x1="390.2" y1="464.5" x2="390.2" y2="455.5" stroke="#000" stroke-width="2"/>
<line x1="390.2" y1="12" x2="390.2" y2="21" stroke="#000" stroke-width="2"/>
<line x1="528.0" y1="464.5" x2="528.0" y2="455.5" stroke="#000" stroke-width="2"/>
<line x1="528.0" y1="12" x2="528.0" y2="21" stroke="#000" stroke-width="2"/>
<line x1="665.8" y1="464.5" x2="665.8" y2="455.5" stroke="#000" stroke-width="2"/>
<line x1="665.8" y1="12" x2="665.8" y2="21" stroke="#000" stroke-width="2"/>
<line x1="183.5" y1="464.5" x2="183.5" y2="460.0" stroke="#000" stroke-width="2"/>
<line x1="183.5" y1="12" x2="183.5" y2="16.5" stroke="#000" stroke-width="2"/>
<line x1="321.3" y1="464.5" x2="321.3" y2="460.0" stroke="#000" stroke-width="2"/>
<line x1="321.3" y1="12" x2="321.3" y2="16.5" stroke="#000" stroke-width="2"/>
<line x1="459.1" y1="464.5" x2="459.1" y2="460.0" stroke="#000" stroke-width="2"/>
<line x1="459.1" y1="12" x2="459.1" y2="16.5" stroke="#000" stroke-width="2"/>
<line x1="596.9" y1="464.5" x2="596.9" y2="460.0" stroke="#000" stroke-width="2"/>
<line x1="596.9" y1="12" x2="596.9" y2="16.5" stroke="#000" stroke-width="2"/>
<text x="100" y="20.0" font-size="29.3" text-anchor="end" >0.25</text>
<text x="100" y="133.1" font-size="29.3" text-anchor="end" >0.2</text>
<text x="100" y="246.2" font-size="29.3" text-anchor="end" >0.15</text>
<text x="100" y="359.4" font-size="29.3" text-anchor="end" >0.1</text>
<text x="100" y="472.5" font-size="29.3" text-anchor="end" >0.05</text>
<text x="114.6" y="495.5" font-size="29.3" text-anchor="middle" >0</text>
<text x="252.4" y="495.5" font-size="29.3" text-anchor="middle" >2</text>
<text x="390.2" y="495.5" font-size="29.3" text-anchor="middle" >4</text>
<text x="528.0" y="495.5" font-size="29.3" text-anchor="middle" >6</text>
<text x="665.8" y="495.5" font-size="29.3" text-anchor="middle" >8</text>
<text x="388" y="530" font-size="33.5" text-anchor="middle" >Time (&#956;s)</text>
<text x="116.5" y="58.5" font-size="48" text-anchor="start" >(a)</text>
<text x="449" y="57" font-size="33" text-anchor="start" >Zero-field (ZF)</text>
<text x="449" y="89" font-size="33" text-anchor="start" >T = 2 K</text>
<text transform="translate(23.5,278) rotate(-90)" font-size="33">A<tspan font-size="23" dy="8.5">0</tspan><tspan dy="-8.5">P</tspan><tspan font-size="22.5" dy="8.5">ZF</tspan><tspan dy="-8.5">(t)</tspan></text>
<line x1="108.7" y1="391" x2="108.7" y2="547" stroke="#000" stroke-width="1.7" stroke-dasharray="1.6 1.4"/>
<line x1="124.5" y1="391" x2="666.7" y2="547.5" stroke="#000" stroke-width="2.2" stroke-dasharray="1.9 1.15"/>
<path d="M115.5,640.5V671.5M110.5,640.5h10M110.5,671.5h10 M118.5,641.6V673.8M113.5,641.6h10M113.5,673.8h10 M121.0,639.3V670.7M116.0,639.3h10M116.0,670.7h10 M124.4,682.5V714.9M119.4,682.5h10M119.4,714.9h10 M127.5,770.7V803.3M122.5,770.7h10M122.5,803.3h10 M129.9,803.6V833.8M124.9,803.6h10M124.9,833.8h10 M132.6,847.6V877.6M127.6,847.6h10M127.6,877.6h10 M135.8,850.5V883.9M130.8,850.5h10M130.8,883.9h10 M137.7,843.0V874.0M132.7,843.0h10M132.7,874.0h10 M140.8,857.3V888.3M135.8,857.3h10M135.8,888.3h10 M141.8,860.8V894.8M136.8,860.8h10M136.8,894.8h10 M141.8,870.1V901.9M136.8,870.1h10M136.8,901.9h10 M146.9,855.1V888.5M141.9,855.1h10M141.9,888.5h10 M146.9,902.7V934.7M141.9,902.7h10M141.9,934.7h10 M149.2,879.6V912.2M144.2,879.6h10M144.2,912.2h10 M152.0,833.0V863.6M147.0,833.0h10M147.0,863.6h10 M157.1,821.8V854.4M152.1,821.8h10M152.1,854.4h10 M158.1,775.4V808.8M153.1,775.4h10M153.1,808.8h10 M161.2,753.6V785.6M156.2,753.6h10M156.2,785.6h10 M165.3,727.6V760.6M160.3,727.6h10M160.3,760.6h10 M166.3,728.4V761.0M161.3,728.4h10M161.3,761.0h10 M170.4,716.3V746.5M165.4,716.3h10M165.4,746.5h10 M173.5,698.5V731.5M168.5,698.5h10M168.5,731.5h10 M175.5,699.8V732.2M170.5,699.8h10M170.5,732.2h10 M179.6,691.3V722.5M174.6,691.3h10M174.6,722.5h10 M181.6,733.1V763.3M176.6,733.1h10M176.6,763.3h10 M182.7,731.0V764.4M177.7,731.0h10M177.7,764.4h10 M185.7,717.5V749.3M180.7,717.5h10M180.7,749.3h10 M186.7,731.8V764.6M181.7,731.8h10M181.7,764.6h10 M188.8,762.0V795.6M183.8,762.0h10M183.8,795.6h10 M192.9,750.2V783.0M187.9,750.2h10M187.9,783.0h10 M194.9,762.0V795.6M189.9,762.0h10M189.9,795.6h10 M198.0,811.1V842.7M193.0,811.1h10M193.0,842.7h10 M200.0,802.8V836.0M195.0,802.8h10M195.0,836.0h10 M204.1,799.7V831.5M199.1,799.7h10M199.1,831.5h10 M207.2,804.0V837.8M202.2,804.0h10M202.2,837.8h10 M209.2,831.5V865.1M204.2,831.5h10M204.2,865.1h10 M211.3,792.2V822.6M206.3,792.2h10M206.3,822.6h10 M213.3,777.8V808.4M208.3,777.8h10M208.3,808.4h10 M218.4,770.6V801.4M213.4,770.6h10M213.4,801.4h10 M220.0,776.9V810.8M215.0,776.9h10M215.0,810.8h10 M223.5,768.0V799.8M218.5,768.0h10M218.5,799.8h10 M227.6,746.2V778.8M222.6,746.2h10M222.6,778.8h10 M229.7,741.4V772.6M224.7,741.4h10M224.7,772.6h10 M231.7,756.7V788.7M226.7,756.7h10M226.7,788.7h10 M234.8,740.1V771.7M229.8,740.1h10M229.8,771.7h10 M234.8,741.7V773.1M229.8,741.7h10M229.8,773.1h10 M236.8,764.7V797.1M231.8,764.7h10M231.8,797.1h10 M237.0,741.0V773.4M232.0,741.0h10M232.0,773.4h10 M237.0,769.0V802.6M232.0,769.0h10M232.0,802.6h10 M240.9,778.8V811.6M235.9,778.8h10M235.9,811.6h10 M241.1,779.2V813.0M236.1,779.2h10M236.1,813.0h10 M244.2,770.2V803.6M239.2,770.2h10M239.2,803.6h10 M246.2,762.7V796.7M241.2,762.7h10M241.2,796.7h10 M248.3,756.3V788.9M243.3,756.3h10M243.3,788.9h10 M251.3,799.2V829.8M246.3,799.2h10M246.3,829.8h10 M254.5,803.6V837.1M249.5,803.6h10M249.5,837.1h10 M259.5,785.3V819.1M254.5,785.3h10M254.5,819.1h10 M260.7,804.9V838.5M255.7,804.9h10M255.7,838.5h10 M264.6,796.3V828.5M259.6,796.3h10M259.6,828.5h10 M267.7,820.5V853.3M262.7,820.5h10M262.7,853.3h10 M270.8,833.6V864.4M265.8,833.6h10M265.8,864.4h10 M273.8,776.3V809.7M268.8,776.3h10M268.8,809.7h10 M277.9,770.8V803.0M272.9,770.8h10M272.9,803.0h10 M278.9,786.6V817.8M273.9,786.6h10M273.9,817.8h10 M282.0,800.5V830.8M277.0,800.5h10M277.0,830.8h10 M284.0,809.0V842.4M279.0,809.0h10M279.0,842.4h10 M288.7,787.5V821.4M283.7,787.5h10M283.7,821.4h10 M290.2,769.6V800.0M285.2,769.6h10M285.2,800.0h10 M292.2,779.5V812.7M287.2,779.5h10M287.2,812.7h10 M294.8,783.8V815.5M289.8,783.8h10M289.8,815.5h10 M297.3,783.8V814.4M292.3,783.8h10M292.3,814.4h10 M300.4,754.9V786.1M295.4,754.9h10M295.4,786.1h10 M305.5,769.3V802.3M300.5,769.3h10M300.5,802.3h10 M309.6,758.9V792.3M304.6,758.9h10M304.6,792.3h10 M312.7,760.5V790.7M307.7,760.5h10M307.7,790.7h10 M315.7,774.4V806.8M310.7,774.4h10M310.7,806.8h10 M319.8,741.1V771.3M314.8,741.1h10M314.8,771.3h10 M323.9,770.5V803.3M318.9,770.5h10M318.9,803.3h10 M326.2,788.2V819.5M321.2,788.2h10M321.2,819.5h10 M328.0,791.5V825.1M323.0,791.5h10M323.0,825.1h10 M331.1,779.1V813.1M326.1,779.1h10M326.1,813.1h10 M336.2,756.6V788.6M331.2,756.6h10M331.2,788.6h10 M340.3,790.3V824.3M335.3,790.3h10M335.3,824.3h10 M342.3,807.0V838.2M337.3,807.0h10M337.3,838.2h10 M345.9,804.6V834.9M340.9,804.6h10M340.9,834.9h10 M349.5,816.6V849.0M344.5,816.6h10M344.5,849.0h10 M353.4,823.1V853.2M348.4,823.1h10M348.4,853.2h10 M355.6,827.5V858.3M350.6,827.5h10M350.6,858.3h10 M357.6,806.8V838.4M352.6,806.8h10M352.6,838.4h10 M359.7,859.4V891.8M354.7,859.4h10M354.7,891.8h10 M361.7,805.3V835.9M356.7,805.3h10M356.7,835.9h10 M365.8,823.7V853.9M360.8,823.7h10M360.8,853.9h10 M367.0,778.7V812.1M362.0,778.7h10M362.0,812.1h10 M367.0,822.7V853.9M362.0,822.7h10M362.0,853.9h10 M367.8,778.1V811.9M362.8,778.1h10M362.8,811.9h10 M370.9,796.6V830.2M365.9,796.6h10M365.9,830.2h10 M371.9,799.5V831.1M366.9,799.5h10M366.9,831.1h10 M372.2,799.9V831.7M367.2,799.9h10M367.2,831.7h10 M373.2,779.4V811.4M368.2,779.4h10M368.2,811.4h10 M376.6,796.3V828.9M371.6,796.3h10M371.6,828.9h10 M379.3,769.0V801.4M374.3,769.0h10M374.3,801.4h10 M383.8,780.3V812.5M378.8,780.3h10M378.8,812.5h10 M385.4,773.1V805.5M380.4,773.1h10M380.4,805.5h10 M388.5,774.4V808.2M383.5,774.4h10M383.5,808.2h10 M391.6,762.0V794.0M386.6,762.0h10M386.6,794.0h10 M393.5,795.1V826.8M388.5,795.1h10M388.5,826.8h10 M395.7,744.3V777.1M390.7,744.3h10M390.7,777.1h10 M398.7,799.3V830.3M393.7,799.3h10M393.7,830.3h10 M401.1,776.0V807.2M396.1,776.0h10M396.1,807.2h10 M404.9,763.1V797.1M399.9,763.1h10M399.9,797.1h10 M407.9,774.3V806.3M402.9,774.3h10M402.9,806.3h10 M411.0,806.9V839.1M406.0,806.9h10M406.0,839.1h10 M415.1,813.1V843.1M410.1,813.1h10M410.1,843.1h10 M418.1,773.5V805.1M413.1,773.5h10M413.1,805.1h10 M421.2,804.7V837.1M416.2,804.7h10M416.2,837.1h10 M424.3,756.9V786.9M419.3,756.9h10M419.3,786.9h10 M428.4,781.2V813.6M423.4,781.2h10M423.4,813.6h10 M431.6,786.9V819.5M426.6,786.9h10M426.6,819.5h10 M434.5,816.1V846.3M429.5,816.1h10M429.5,846.3h10 M437.7,801.7V834.2M432.7,801.7h10M432.7,834.2h10 M440.6,782.6V814.4M435.6,782.6h10M435.6,814.4h10 M444.7,770.8V803.6M439.7,770.8h10M439.7,803.6h10 M447.8,822.6V854.0M442.8,822.6h10M442.8,854.0h10 M450.8,802.5V835.3M445.8,802.5h10M445.8,835.3h10 M453.9,813.6V846.6M448.9,813.6h10M448.9,846.6h10 M458.0,785.5V815.5M453.0,785.5h10M453.0,815.5h10 M461.1,803.8V834.0M456.1,803.8h10M456.1,834.0h10 M465.1,774.9V807.7M460.1,774.9h10M460.1,807.7h10 M468.2,798.8V832.6M463.2,798.8h10M463.2,832.6h10 M470.3,773.8V804.8M465.3,773.8h10M465.3,804.8h10 M473.3,795.8V827.6M468.3,795.8h10M468.3,827.6h10 M475.5,791.7V824.0M470.5,791.7h10M470.5,824.0h10 M479.4,754.3V785.5M474.4,754.3h10M474.4,785.5h10 M482.5,802.2V833.6M477.5,802.2h10M477.5,833.6h10 M485.1,780.4V811.6M480.1,780.4h10M480.1,811.6h10 M487.6,784.8V816.2M482.6,784.8h10M482.6,816.2h10 M492.7,758.8V791.2M487.7,758.8h10M487.7,791.2h10 M495.8,794.1V825.3M490.8,794.1h10M490.8,825.3h10 M496.0,760.2V791.8M491.0,760.2h10M491.0,791.8h10 M498.1,790.1V823.1M493.1,790.1h10M493.1,823.1h10 M500.9,791.5V821.7M495.9,791.5h10M495.9,821.7h10 M501.9,775.2V807.4M496.9,775.2h10M496.9,807.4h10 M507.3,775.8V808.8M502.3,775.8h10M502.3,808.8h10 M510.3,803.3V834.5M505.3,803.3h10M505.3,834.5h10 M513.4,819.9V850.7M508.4,819.9h10M508.4,850.7h10 M515.4,773.7V806.9M510.4,773.7h10M510.4,806.9h10 M519.5,822.8V853.8M514.5,822.8h10M514.5,853.8h10 M522.6,772.8V803.6M517.6,772.8h10M517.6,803.6h10 M525.7,783.6V815.4M520.7,783.6h10M520.7,815.4h10 M530.8,812.7V845.5M525.8,812.7h10M525.8,845.5h10 M533.0,788.5V818.9M528.0,788.5h10M528.0,818.9h10 M535.9,775.7V806.9M530.9,775.7h10M530.9,806.9h10 M538.9,800.1V831.5M533.9,800.1h10M533.9,831.5h10 M543.7,788.7V822.0M538.7,788.7h10M538.7,822.0h10 M545.1,818.3V850.1M540.1,818.3h10M540.1,850.1h10 M549.2,811.4V844.8M544.2,811.4h10M544.2,844.8h10 M552.2,762.7V793.3M547.2,762.7h10M547.2,793.3h10 M555.3,825.7V857.1M550.3,825.7h10M550.3,857.1h10 M558.4,784.2V816.8M553.4,784.2h10M553.4,816.8h10 M560.4,795.1V828.6M555.4,795.1h10M555.4,828.6h10 M562.4,776.4V808.2M557.4,776.4h10M557.4,808.2h10 M566.5,790.1V821.1M561.5,790.1h10M561.5,821.1h10 M570.8,816.0V846.5M565.8,816.0h10M565.8,846.5h10 M572.7,797.7V829.9M567.7,797.7h10M567.7,829.9h10 M578.8,800.4V831.2M573.8,800.4h10M573.8,831.2h10 M580.8,782.9V816.1M575.8,782.9h10M575.8,816.1h10 M583.7,795.1V828.4M578.7,795.1h10M578.7,828.4h10 M588.0,791.2V822.0M583.0,791.2h10M583.0,822.0h10 M591.1,765.5V796.7M586.1,765.5h10M586.1,796.7h10 M595.1,801.3V834.5M590.1,801.3h10M590.1,834.5h10 M596.3,763.1V795.7M591.3,763.1h10M591.3,795.7h10 M597.6,802.2V835.4M592.6,802.2h10M592.6,835.4h10 M600.3,784.7V816.1M595.3,784.7h10M595.3,816.1h10 M601.3,784.2V814.8M596.3,784.2h10M596.3,814.8h10 M604.3,755.3V786.5M599.3,755.3h10M599.3,786.5h10 M607.4,792.1V825.3M602.4,792.1h10M602.4,825.3h10 M612.5,784.0V815.0M607.5,784.0h10M607.5,815.0h10 M614.1,805.1V836.5M609.1,805.1h10M609.1,836.5h10 M615.6,804.1V835.7M610.6,804.1h10M610.6,835.7h10 M617.6,761.2V792.8M612.6,761.2h10M612.6,792.8h10 M620.7,816.4V848.0M615.7,816.4h10M615.7,848.0h10 M625.8,801.1V834.7M620.8,801.1h10M620.8,834.7h10 M629.9,826.1V856.7M624.9,826.1h10M624.9,856.7h10 M630.5,827.5V857.5M625.5,827.5h10M625.5,857.5h10 M631.9,790.8V824.6M626.9,790.8h10M626.9,824.6h10 M634.4,794.2V827.8M629.4,794.2h10M629.4,827.8h10 M638.4,805.8V839.8M633.4,805.8h10M633.4,839.8h10 M643.6,808.2V840.0M638.6,808.2h10M638.6,840.0h10 M645.6,798.8V832.6M640.6,798.8h10M640.6,832.6h10 M647.6,817.7V851.5M642.6,817.7h10M642.6,851.5h10 M652.5,796.8V827.7M647.5,796.8h10M647.5,827.7h10 M654.8,803.6V836.6M649.8,803.6h10M649.8,836.6h10 M657.4,772.6V806.0M652.4,772.6h10M652.4,806.0h10 M659.4,794.7V827.3M654.4,794.7h10M654.4,827.3h10 M663.3,781.8V813.8M658.3,781.8h10M658.3,813.8h10" stroke="#8c8c8c" stroke-width="1.5" fill="none"/>
<path d="M110.9,651.4h9.2v9.2h-9.2z M113.9,653.1h9.2v9.2h-9.2z M116.4,650.4h9.2v9.2h-9.2z M119.8,694.1h9.2v9.2h-9.2z M122.9,782.4h9.2v9.2h-9.2z M125.3,814.1h9.2v9.2h-9.2z M128.0,858.0h9.2v9.2h-9.2z M131.2,862.6h9.2v9.2h-9.2z M133.1,853.9h9.2v9.2h-9.2z M136.2,868.2h9.2v9.2h-9.2z M137.2,873.2h9.2v9.2h-9.2z M137.2,881.4h9.2v9.2h-9.2z M142.3,867.2h9.2v9.2h-9.2z M142.3,914.1h9.2v9.2h-9.2z M144.6,891.3h9.2v9.2h-9.2z M147.4,843.7h9.2v9.2h-9.2z M152.5,833.5h9.2v9.2h-9.2z M153.5,787.5h9.2v9.2h-9.2z M156.6,765.0h9.2v9.2h-9.2z M160.7,739.5h9.2v9.2h-9.2z M161.7,740.1h9.2v9.2h-9.2z M165.8,726.8h9.2v9.2h-9.2z M168.9,710.4h9.2v9.2h-9.2z M170.9,711.4h9.2v9.2h-9.2z M175.0,702.3h9.2v9.2h-9.2z M177.0,743.6h9.2v9.2h-9.2z M178.1,743.1h9.2v9.2h-9.2z M181.1,728.8h9.2v9.2h-9.2z M182.1,743.6h9.2v9.2h-9.2z M184.2,774.2h9.2v9.2h-9.2z M188.3,762.0h9.2v9.2h-9.2z M190.3,774.2h9.2v9.2h-9.2z M193.4,822.3h9.2v9.2h-9.2z M195.4,814.8h9.2v9.2h-9.2z M199.5,811.0h9.2v9.2h-9.2z M202.6,816.3h9.2v9.2h-9.2z M204.6,843.7h9.2v9.2h-9.2z M206.7,802.8h9.2v9.2h-9.2z M208.7,788.5h9.2v9.2h-9.2z M213.8,781.4h9.2v9.2h-9.2z M215.4,789.2h9.2v9.2h-9.2z M218.9,779.3h9.2v9.2h-9.2z M223.0,757.9h9.2v9.2h-9.2z M225.1,752.4h9.2v9.2h-9.2z M227.1,768.1h9.2v9.2h-9.2z M230.2,751.3h9.2v9.2h-9.2z M230.2,752.8h9.2v9.2h-9.2z M232.2,776.3h9.2v9.2h-9.2z M232.4,752.6h9.2v9.2h-9.2z M232.4,781.2h9.2v9.2h-9.2z M236.3,790.6h9.2v9.2h-9.2z M236.5,791.5h9.2v9.2h-9.2z M239.6,782.3h9.2v9.2h-9.2z M241.6,775.1h9.2v9.2h-9.2z M243.7,768.0h9.2v9.2h-9.2z M246.7,809.9h9.2v9.2h-9.2z M249.9,815.8h9.2v9.2h-9.2z M254.9,797.6h9.2v9.2h-9.2z M256.1,817.1h9.2v9.2h-9.2z M260.0,807.8h9.2v9.2h-9.2z M263.1,832.3h9.2v9.2h-9.2z M266.2,844.4h9.2v9.2h-9.2z M269.2,788.4h9.2v9.2h-9.2z M273.3,782.3h9.2v9.2h-9.2z M274.3,797.6h9.2v9.2h-9.2z M277.4,811.1h9.2v9.2h-9.2z M279.4,821.1h9.2v9.2h-9.2z M284.1,799.9h9.2v9.2h-9.2z M285.6,780.2h9.2v9.2h-9.2z M287.6,791.5h9.2v9.2h-9.2z M290.2,795.0h9.2v9.2h-9.2z M292.7,794.5h9.2v9.2h-9.2z M295.8,765.9h9.2v9.2h-9.2z M300.9,781.2h9.2v9.2h-9.2z M305.0,771.0h9.2v9.2h-9.2z M308.1,771.0h9.2v9.2h-9.2z M311.1,786.0h9.2v9.2h-9.2z M315.2,751.6h9.2v9.2h-9.2z M319.3,782.3h9.2v9.2h-9.2z M321.6,799.2h9.2v9.2h-9.2z M323.4,803.7h9.2v9.2h-9.2z M326.5,791.5h9.2v9.2h-9.2z M331.6,768.0h9.2v9.2h-9.2z M335.7,802.7h9.2v9.2h-9.2z M337.7,818.0h9.2v9.2h-9.2z M341.3,815.2h9.2v9.2h-9.2z M344.9,828.2h9.2v9.2h-9.2z M348.8,833.5h9.2v9.2h-9.2z M351.0,838.3h9.2v9.2h-9.2z M353.0,818.0h9.2v9.2h-9.2z M355.1,871.0h9.2v9.2h-9.2z M357.1,816.0h9.2v9.2h-9.2z M361.2,834.2h9.2v9.2h-9.2z M362.4,790.8h9.2v9.2h-9.2z M362.4,833.7h9.2v9.2h-9.2z M363.2,790.4h9.2v9.2h-9.2z M366.3,808.8h9.2v9.2h-9.2z M367.3,810.7h9.2v9.2h-9.2z M367.6,811.2h9.2v9.2h-9.2z M368.6,790.8h9.2v9.2h-9.2z M372.0,808.0h9.2v9.2h-9.2z M374.7,780.6h9.2v9.2h-9.2z M379.2,791.8h9.2v9.2h-9.2z M380.8,784.7h9.2v9.2h-9.2z M383.9,786.7h9.2v9.2h-9.2z M387.0,773.4h9.2v9.2h-9.2z M388.9,806.4h9.2v9.2h-9.2z M391.1,756.1h9.2v9.2h-9.2z M394.1,810.2h9.2v9.2h-9.2z M396.5,787.0h9.2v9.2h-9.2z M400.3,775.5h9.2v9.2h-9.2z M403.3,785.7h9.2v9.2h-9.2z M406.4,818.4h9.2v9.2h-9.2z M410.5,823.5h9.2v9.2h-9.2z M413.5,784.7h9.2v9.2h-9.2z M416.6,816.3h9.2v9.2h-9.2z M419.7,767.3h9.2v9.2h-9.2z M423.8,792.8h9.2v9.2h-9.2z M427.0,798.6h9.2v9.2h-9.2z M429.9,826.6h9.2v9.2h-9.2z M433.1,813.4h9.2v9.2h-9.2z M436.0,793.9h9.2v9.2h-9.2z M440.1,782.6h9.2v9.2h-9.2z M443.2,833.7h9.2v9.2h-9.2z M446.2,814.3h9.2v9.2h-9.2z M449.3,825.5h9.2v9.2h-9.2z M453.4,795.9h9.2v9.2h-9.2z M456.5,814.3h9.2v9.2h-9.2z M460.5,786.7h9.2v9.2h-9.2z M463.6,811.1h9.2v9.2h-9.2z M465.7,784.7h9.2v9.2h-9.2z M468.7,807.1h9.2v9.2h-9.2z M470.9,803.2h9.2v9.2h-9.2z M474.8,765.3h9.2v9.2h-9.2z M477.9,813.3h9.2v9.2h-9.2z M480.5,791.4h9.2v9.2h-9.2z M483.0,795.9h9.2v9.2h-9.2z M488.1,770.4h9.2v9.2h-9.2z M491.2,805.1h9.2v9.2h-9.2z M491.4,771.4h9.2v9.2h-9.2z M493.5,802.0h9.2v9.2h-9.2z M496.3,802.0h9.2v9.2h-9.2z M497.3,786.7h9.2v9.2h-9.2z M502.7,787.7h9.2v9.2h-9.2z M505.7,814.3h9.2v9.2h-9.2z M508.8,830.7h9.2v9.2h-9.2z M510.8,785.7h9.2v9.2h-9.2z M514.9,833.7h9.2v9.2h-9.2z M518.0,783.6h9.2v9.2h-9.2z M521.1,794.9h9.2v9.2h-9.2z M526.2,824.5h9.2v9.2h-9.2z M528.4,799.1h9.2v9.2h-9.2z M531.3,786.7h9.2v9.2h-9.2z M534.3,811.2h9.2v9.2h-9.2z M539.1,800.7h9.2v9.2h-9.2z M540.5,829.6h9.2v9.2h-9.2z M544.6,823.5h9.2v9.2h-9.2z M547.6,773.4h9.2v9.2h-9.2z M550.7,836.8h9.2v9.2h-9.2z M553.8,795.9h9.2v9.2h-9.2z M555.8,807.2h9.2v9.2h-9.2z M557.8,787.7h9.2v9.2h-9.2z M561.9,801.0h9.2v9.2h-9.2z M566.2,826.6h9.2v9.2h-9.2z M568.1,809.2h9.2v9.2h-9.2z M574.2,811.2h9.2v9.2h-9.2z M576.2,794.9h9.2v9.2h-9.2z M579.1,807.2h9.2v9.2h-9.2z M583.4,802.0h9.2v9.2h-9.2z M586.5,776.5h9.2v9.2h-9.2z M590.5,813.3h9.2v9.2h-9.2z M591.7,774.8h9.2v9.2h-9.2z M593.0,814.2h9.2v9.2h-9.2z M595.7,795.8h9.2v9.2h-9.2z M596.7,794.9h9.2v9.2h-9.2z M599.7,766.3h9.2v9.2h-9.2z M602.8,804.1h9.2v9.2h-9.2z M607.9,794.9h9.2v9.2h-9.2z M609.5,816.2h9.2v9.2h-9.2z M611.0,815.3h9.2v9.2h-9.2z M613.0,772.4h9.2v9.2h-9.2z M616.1,827.6h9.2v9.2h-9.2z M621.2,813.3h9.2v9.2h-9.2z M625.3,836.8h9.2v9.2h-9.2z M625.9,837.9h9.2v9.2h-9.2z M627.3,803.1h9.2v9.2h-9.2z M629.8,806.4h9.2v9.2h-9.2z M633.8,818.2h9.2v9.2h-9.2z M639.0,819.5h9.2v9.2h-9.2z M641.0,811.1h9.2v9.2h-9.2z M643.0,830.0h9.2v9.2h-9.2z M647.9,807.7h9.2v9.2h-9.2z M650.2,815.5h9.2v9.2h-9.2z M652.8,784.7h9.2v9.2h-9.2z M654.8,806.4h9.2v9.2h-9.2z M658.7,793.2h9.2v9.2h-9.2z" stroke="#6c6c6c" stroke-width="1.5" fill="#a0a0a0"/>
<path d="M116.81,641.66 L117.27,646.13 L117.73,650.83 L118.18,655.75 L118.64,660.89 L119.10,666.22 L119.56,671.73 L120.02,677.42 L120.48,683.26 L120.94,689.25 L121.39,695.36 L121.85,701.60 L122.31,707.93 L122.77,714.35 L123.23,720.84 L123.69,727.40 L124.15,733.99 L124.60,740.63 L125.06,747.28 L125.52,753.93 L125.98,760.58 L126.44,767.20 L126.90,773.80 L127.36,780.34 L127.81,786.83 L128.27,793.24 L128.73,799.58 L129.19,805.82 L129.65,811.95 L130.11,817.97 L130.57,823.86 L131.03,829.62 L131.48,835.23 L131.94,840.69 L132.40,845.99 L132.86,851.11 L133.32,856.06 L133.78,860.82 L134.24,865.38 L134.69,869.75 L135.15,873.92 L135.61,877.87 L136.07,881.61 L136.53,885.13 L136.99,888.43 L137.45,891.51 L137.90,894.35 L138.36,896.97 L138.82,899.35 L139.28,901.49 L139.74,903.41 L140.20,905.09 L140.66,906.53 L141.11,907.74 L141.57,908.72 L142.03,909.47 L142.49,909.98 L142.95,910.27 L143.41,910.34 L143.87,910.19 L144.33,909.82 L144.78,909.23 L145.24,908.44 L145.70,907.45 L146.16,906.25 L146.62,904.87 L147.08,903.30 L147.54,901.54 L147.99,899.61 L148.45,897.52 L148.91,895.26 L149.37,892.85 L149.83,890.29 L150.29,887.59 L150.75,884.76 L151.20,881.81 L151.66,878.74 L152.12,875.57 L152.58,872.29 L153.04,868.92 L153.50,865.47 L153.96,861.94 L154.42,858.35 L154.87,854.70 L155.33,851.00 L155.79,847.26 L156.25,843.48 L156.71,839.68 L157.17,835.86 L157.63,832.04 L158.08,828.21 L158.54,824.39 L159.00,820.58 L159.46,816.80 L159.92,813.05 L160.38,809.33 L160.84,805.65 L161.29,802.03 L161.75,798.47 L162.21,794.96 L162.67,791.53 L163.13,788.17 L163.59,784.90 L164.05,781.71 L164.50,778.61 L164.96,775.61 L165.42,772.71 L165.88,769.92 L166.34,767.23 L166.80,764.66 L167.26,762.21 L167.72,759.87 L168.17,757.66 L168.63,755.57 L169.09,753.61 L169.55,751.78 L170.01,750.08 L170.47,748.52 L170.93,747.08 L171.38,745.78 L171.84,744.62 L172.30,743.59 L172.76,742.70 L173.22,741.93 L173.68,741.31 L174.14,740.81 L174.59,740.45 L175.05,740.21 L175.51,740.11 L175.97,740.13 L176.43,740.27 L176.89,740.53 L177.35,740.92 L177.81,741.42 L178.26,742.03 L178.72,742.75 L179.18,743.58 L179.64,744.51 L180.10,745.54 L180.56,746.66 L181.02,747.88 L181.47,749.18 L181.93,750.56 L182.39,752.02 L182.85,753.56 L183.31,755.16 L183.77,756.83 L184.23,758.55 L184.68,760.33 L185.14,762.16 L185.60,764.04 L186.06,765.95 L186.52,767.90 L186.98,769.88 L187.44,771.88 L187.89,773.91 L188.35,775.95 L188.81,778.00 L189.27,780.05 L189.73,782.11 L190.19,784.17 L190.65,786.21 L191.11,788.25 L191.56,790.26 L192.02,792.26 L192.48,794.23 L192.94,796.17 L193.40,798.08 L193.86,799.95 L194.32,801.78 L194.77,803.57 L195.23,805.31 L195.69,807.00 L196.15,808.64 L196.61,810.22 L197.07,811.74 L197.53,813.21 L197.98,814.60 L198.44,815.94 L198.90,817.20 L199.36,818.39 L199.82,819.52 L200.28,820.57 L200.74,821.54 L201.19,822.45 L201.65,823.27 L202.11,824.02 L202.57,824.69 L203.03,825.29 L203.49,825.80 L203.95,826.24 L204.41,826.61 L204.86,826.89 L205.32,827.10 L205.78,827.23 L206.24,827.29 L206.70,827.28 L207.16,827.19 L207.62,827.03 L208.07,826.80 L208.53,826.50 L208.99,826.14 L209.45,825.71 L209.91,825.21 L210.37,824.66 L210.83,824.05 L211.28,823.38 L211.74,822.65 L212.20,821.88 L212.66,821.06 L213.12,820.19 L213.58,819.27 L214.04,818.32 L214.50,817.33 L214.95,816.30 L215.41,815.24 L215.87,814.15 L216.33,813.04 L216.79,811.90 L217.25,810.74 L217.71,809.57 L218.16,808.38 L218.62,807.18 L219.08,805.97 L219.54,804.76 L220.00,803.54 L220.46,802.33 L220.92,801.12 L221.37,799.91 L221.83,798.72 L222.29,797.53 L222.75,796.37 L223.21,795.22 L223.67,794.09 L224.13,792.98 L224.58,791.90 L225.04,790.84 L225.50,789.82 L225.96,788.82 L226.42,787.86 L226.88,786.94 L227.34,786.06 L227.80,785.21 L228.25,784.41 L228.71,783.64 L229.17,782.93 L229.63,782.25 L230.09,781.63 L230.55,781.05 L231.01,780.52 L231.46,780.05 L231.92,779.62 L232.38,779.24 L232.84,778.92 L233.30,778.64 L233.76,778.42 L234.22,778.26 L234.67,778.14 L235.13,778.08 L235.59,778.07 L236.05,778.11 L236.51,778.20 L236.97,778.35 L237.43,778.54 L237.88,778.79 L238.34,779.08 L238.80,779.42 L239.26,779.81 L239.72,780.25 L240.18,780.73 L240.64,781.25 L241.10,781.82 L241.55,782.42 L242.01,783.07 L242.47,783.75 L242.93,784.47 L243.39,785.22 L243.85,786.01 L244.31,786.83 L244.76,787.67 L245.22,788.54 L245.68,789.44 L246.14,790.36 L246.60,791.30 L247.06,792.26 L247.52,793.24 L247.97,794.23 L248.43,795.23 L248.89,796.24 L249.35,797.27 L249.81,798.29 L250.27,799.33 L250.73,800.36 L251.19,801.39 L251.64,802.43 L252.10,803.45 L252.56,804.47 L253.02,805.49 L253.48,806.49 L253.94,807.48 L254.40,808.45 L254.85,809.41 L255.31,810.35 L255.77,811.28 L256.23,812.18 L256.69,813.05 L257.15,813.91 L257.61,814.73 L258.06,815.53 L258.52,816.30 L258.98,817.04 L259.44,817.75 L259.90,818.42 L260.36,819.06 L260.82,819.66 L261.27,820.23 L261.73,820.77 L262.19,821.26 L262.65,821.71 L263.11,822.13 L263.57,822.51 L264.03,822.84 L264.49,823.14 L264.94,823.39 L265.40,823.61 L265.86,823.78 L266.32,823.91 L266.78,824.00 L267.24,824.04 L267.70,824.05 L268.15,824.01 L268.61,823.94 L269.07,823.82 L269.53,823.66 L269.99,823.47 L270.45,823.23 L270.91,822.96 L271.36,822.64 L271.82,822.30 L272.28,821.91 L272.74,821.49 L273.20,821.04 L273.66,820.55 L274.12,820.03 L274.58,819.48 L275.03,818.90 L275.49,818.30 L275.95,817.66 L276.41,817.00 L276.87,816.32 L277.33,815.61 L277.79,814.88 L278.24,814.12 L278.70,813.35 L279.16,812.57 L279.62,811.76 L280.08,810.94 L280.54,810.11 L281.00,809.27 L281.45,808.42 L281.91,807.55 L282.37,806.69 L282.83,805.81 L283.29,804.93 L283.75,804.05 L284.21,803.17 L284.66,802.29 L285.12,801.42 L285.58,800.54 L286.04,799.67 L286.50,798.81 L286.96,797.96 L287.42,797.11 L287.88,796.27 L288.33,795.45 L288.79,794.64 L289.25,793.85 L289.71,793.07 L290.17,792.31 L290.63,791.56 L291.09,790.84 L291.54,790.13 L292.00,789.45 L292.46,788.78 L292.92,788.14 L293.38,787.53 L293.84,786.94 L294.30,786.37 L294.75,785.83 L295.21,785.32 L295.67,784.83 L296.13,784.38 L296.59,783.95 L297.05,783.54 L297.51,783.17 L297.96,782.83 L298.42,782.52 L298.88,782.23 L299.34,781.98 L299.80,781.76 L300.26,781.57 L300.72,781.40 L301.18,781.27 L301.63,781.17 L302.09,781.10 L302.55,781.06 L303.01,781.04 L303.47,781.06 L303.93,781.11 L304.39,781.18 L304.84,781.28 L305.30,781.41 L305.76,781.57 L306.22,781.76 L306.68,781.97 L307.14,782.20 L307.60,782.46 L308.05,782.75 L308.51,783.06 L308.97,783.39 L309.43,783.74 L309.89,784.12 L310.35,784.51 L310.81,784.92 L311.27,785.36 L311.72,785.81 L312.18,786.28 L312.64,786.76 L313.10,787.26 L313.56,787.77 L314.02,788.30 L314.48,788.84 L314.93,789.39 L315.39,789.95 L315.85,790.52 L316.31,791.10 L316.77,791.69 L317.23,792.28 L317.69,792.88 L318.14,793.48 L318.60,794.09 L319.06,794.70 L319.52,795.31 L319.98,795.93 L320.44,796.54 L320.90,797.15 L321.35,797.76 L321.81,798.37 L322.27,798.98 L322.73,799.58 L323.19,800.17 L323.65,800.76 L324.11,801.35 L324.57,801.92 L325.02,802.49 L325.48,803.05 L325.94,803.61 L326.40,804.15 L326.86,804.68 L327.32,805.20 L327.78,805.71 L328.23,806.21 L328.69,806.69 L329.15,807.16 L329.61,807.62 L330.07,808.07 L330.53,808.50 L330.99,808.91 L331.44,809.32 L331.90,809.70 L332.36,810.07 L332.82,810.43 L333.28,810.77 L333.74,811.09 L334.20,811.40 L334.66,811.70 L335.11,811.97 L335.57,812.23 L336.03,812.48 L336.49,812.70 L336.95,812.92 L337.41,813.11 L337.87,813.29 L338.32,813.45 L338.78,813.60 L339.24,813.73 L339.70,813.85 L340.16,813.95 L340.62,814.04 L341.08,814.11 L341.53,814.16 L341.99,814.21 L342.45,814.23 L342.91,814.25 L343.37,814.25 L343.83,814.23 L344.29,814.21 L344.74,814.17 L345.20,814.12 L345.66,814.06 L346.12,813.98 L346.58,813.90 L347.04,813.80 L347.50,813.70 L347.96,813.58 L348.41,813.46 L348.87,813.32 L349.33,813.18 L349.79,813.03 L350.25,812.87 L350.71,812.70 L351.17,812.53 L351.62,812.35 L352.08,812.16 L352.54,811.97 L353.00,811.77 L353.46,811.57 L353.92,811.36 L354.38,811.15 L354.83,810.93 L355.29,810.71 L355.75,810.49 L356.21,810.26 L356.67,810.04 L357.13,809.81 L357.59,809.57 L358.04,809.34 L358.50,809.11 L358.96,808.87 L359.42,808.64 L359.88,808.40 L360.34,808.17 L360.80,807.93 L361.26,807.69 L361.71,807.46 L362.17,807.23 L362.63,807.00 L363.09,806.76 L363.55,806.54 L364.01,806.31 L364.47,806.08 L364.92,805.86 L365.38,805.64 L365.84,805.42 L366.30,805.20 L366.76,804.99 L367.22,804.78 L367.68,804.57 L368.13,804.37 L368.59,804.16 L369.05,803.97 L369.51,803.77 L369.97,803.58 L370.43,803.39 L370.89,803.20 L371.35,803.02 L371.80,802.84 L372.26,802.66 L372.72,802.49 L373.18,802.32 L373.64,802.15 L374.10,801.99 L374.56,801.82 L375.01,801.67 L375.47,801.51 L375.93,801.36 L376.39,801.21 L376.85,801.07 L377.31,800.93 L377.77,800.79 L378.22,800.65 L378.68,800.52 L379.14,800.38 L379.60,800.26 L380.06,800.13 L380.52,800.01 L380.98,799.89 L381.43,799.77 L381.89,799.65 L382.35,799.54 L382.81,799.43 L383.27,799.32 L383.73,799.21 L384.19,799.11 L384.65,799.01 L385.10,798.91 L385.56,798.81 L386.02,798.72 L386.48,798.62 L386.94,798.53 L387.40,798.44 L387.86,798.36 L388.31,798.27 L388.77,798.19 L389.23,798.11 L389.69,798.03 L390.15,797.95 L390.61,797.88 L391.07,797.81 L391.52,797.74 L391.98,797.67 L392.44,797.60 L392.90,797.54 L393.36,797.48 L393.82,797.42 L394.28,797.36 L394.73,797.31 L395.19,797.26 L395.65,797.21 L396.11,797.16 L396.57,797.12 L397.03,797.08 L397.49,797.04 L397.95,797.00 L398.40,796.97 L398.86,796.94 L399.32,796.92 L399.78,796.89 L400.24,796.88 L400.70,796.86 L401.16,796.85 L401.61,796.84 L402.07,796.84 L402.53,796.84 L402.99,796.84 L403.45,796.85 L403.91,796.86 L404.37,796.88 L404.82,796.90 L405.28,796.92 L405.74,796.95 L406.20,796.98 L406.66,797.02 L407.12,797.07 L407.58,797.11 L408.04,797.17 L408.49,797.22 L408.95,797.29 L409.41,797.36 L409.87,797.43 L410.33,797.51 L410.79,797.59 L411.25,797.68 L411.70,797.77 L412.16,797.87 L412.62,797.98 L413.08,798.09 L413.54,798.20 L414.00,798.32 L414.46,798.45 L414.91,798.58 L415.37,798.71 L415.83,798.86 L416.29,799.00 L416.75,799.15 L417.21,799.31 L417.67,799.47 L418.12,799.64 L418.58,799.81 L419.04,799.99 L419.50,800.17 L419.96,800.35 L420.42,800.54 L420.88,800.74 L421.34,800.94 L421.79,801.14 L422.25,801.34 L422.71,801.55 L423.17,801.77 L423.63,801.99 L424.09,802.21 L424.55,802.43 L425.00,802.66 L425.46,802.89 L425.92,803.12 L426.38,803.35 L426.84,803.59 L427.30,803.83 L427.76,804.07 L428.21,804.31 L428.67,804.55 L429.13,804.80 L429.59,805.04 L430.05,805.29 L430.51,805.53 L430.97,805.78 L431.43,806.03 L431.88,806.27 L432.34,806.52 L432.80,806.76 L433.26,807.00 L433.72,807.24 L434.18,807.48 L434.64,807.72 L435.09,807.96 L435.55,808.19 L436.01,808.42 L436.47,808.65 L436.93,808.87 L437.39,809.09 L437.85,809.31 L438.30,809.52 L438.76,809.73 L439.22,809.94 L439.68,810.14 L440.14,810.33 L440.60,810.52 L441.06,810.71 L441.51,810.89 L441.97,811.06 L442.43,811.23 L442.89,811.39 L443.35,811.54 L443.81,811.69 L444.27,811.83 L444.73,811.97 L445.18,812.09 L445.64,812.21 L446.10,812.33 L446.56,812.43 L447.02,812.53 L447.48,812.62 L447.94,812.70 L448.39,812.78 L448.85,812.85 L449.31,812.90 L449.77,812.95 L450.23,813.00 L450.69,813.03 L451.15,813.06 L451.60,813.07 L452.06,813.08 L452.52,813.08 L452.98,813.07 L453.44,813.06 L453.90,813.03 L454.36,813.00 L454.81,812.95 L455.27,812.90 L455.73,812.85 L456.19,812.78 L456.65,812.70 L457.11,812.62 L457.57,812.53 L458.03,812.43 L458.48,812.32 L458.94,812.21 L459.40,812.09 L459.86,811.96 L460.32,811.82 L460.78,811.68 L461.24,811.53 L461.69,811.37 L462.15,811.21 L462.61,811.04 L463.07,810.86 L463.53,810.68 L463.99,810.49 L464.45,810.29 L464.90,810.10 L465.36,809.89 L465.82,809.68 L466.28,809.47 L466.74,809.25 L467.20,809.03 L467.66,808.80 L468.12,808.57 L468.57,808.34 L469.03,808.10 L469.49,807.86 L469.95,807.62 L470.41,807.38 L470.87,807.13 L471.33,806.88 L471.78,806.63 L472.24,806.38 L472.70,806.13 L473.16,805.88 L473.62,805.62 L474.08,805.37 L474.54,805.12 L474.99,804.86 L475.45,804.61 L475.91,804.36 L476.37,804.11 L476.83,803.86 L477.29,803.62 L477.75,803.37 L478.20,803.13 L478.66,802.89 L479.12,802.66 L479.58,802.42 L480.04,802.19 L480.50,801.97 L480.96,801.74 L481.42,801.52 L481.87,801.31 L482.33,801.10 L482.79,800.89 L483.25,800.69 L483.71,800.50 L484.17,800.31 L484.63,800.12 L485.08,799.94 L485.54,799.77 L486.00,799.60 L486.46,799.44 L486.92,799.29 L487.38,799.14 L487.84,799.00 L488.29,798.86 L488.75,798.74 L489.21,798.62 L489.67,798.50 L490.13,798.40 L490.59,798.30 L491.05,798.20 L491.50,798.12 L491.96,798.04 L492.42,797.97 L492.88,797.91 L493.34,797.86 L493.80,797.81 L494.26,797.77 L494.72,797.74 L495.17,797.72 L495.63,797.70 L496.09,797.70 L496.55,797.70 L497.01,797.70 L497.47,797.72 L497.93,797.74 L498.38,797.77 L498.84,797.81 L499.30,797.86 L499.76,797.91 L500.22,797.97 L500.68,798.04 L501.14,798.12 L501.59,798.20 L502.05,798.29 L502.51,798.38 L502.97,798.49 L503.43,798.60 L503.89,798.71 L504.35,798.83 L504.81,798.96 L505.26,799.10 L505.72,799.24 L506.18,799.39 L506.64,799.54 L507.10,799.70 L507.56,799.86 L508.02,800.03 L508.47,800.20 L508.93,800.38 L509.39,800.56 L509.85,800.75 L510.31,800.94 L510.77,801.14 L511.23,801.33 L511.68,801.54 L512.14,801.74 L512.60,801.95 L513.06,802.17 L513.52,802.38 L513.98,802.60 L514.44,802.82 L514.89,803.05 L515.35,803.27 L515.81,803.50 L516.27,803.73 L516.73,803.96 L517.19,804.19 L517.65,804.42 L518.11,804.65 L518.56,804.89 L519.02,805.12 L519.48,805.35 L519.94,805.59 L520.40,805.82 L520.86,806.06 L521.32,806.29 L521.77,806.52 L522.23,806.75 L522.69,806.98 L523.15,807.21 L523.61,807.43 L524.07,807.66 L524.53,807.88 L524.98,808.10 L525.44,808.32 L525.90,808.54 L526.36,808.75 L526.82,808.96 L527.28,809.17 L527.74,809.37 L528.20,809.57 L528.65,809.77 L529.11,809.96 L529.57,810.15 L530.03,810.34 L530.49,810.52 L530.95,810.69 L531.41,810.87 L531.86,811.04 L532.32,811.20 L532.78,811.36 L533.24,811.51 L533.70,811.66 L534.16,811.81 L534.62,811.95 L535.07,812.08 L535.53,812.21 L535.99,812.33 L536.45,812.45 L536.91,812.56 L537.37,812.67 L537.83,812.77 L538.28,812.87 L538.74,812.96 L539.20,813.04 L539.66,813.12 L540.12,813.19 L540.58,813.26 L541.04,813.32 L541.50,813.37 L541.95,813.42 L542.41,813.46 L542.87,813.50 L543.33,813.53 L543.79,813.56 L544.25,813.57 L544.71,813.59 L545.16,813.59 L545.62,813.59 L546.08,813.59 L546.54,813.58 L547.00,813.56 L547.46,813.54 L547.92,813.51 L548.37,813.48 L548.83,813.44 L549.29,813.40 L549.75,813.34 L550.21,813.29 L550.67,813.23 L551.13,813.16 L551.58,813.09 L552.04,813.01 L552.50,812.93 L552.96,812.85 L553.42,812.75 L553.88,812.66 L554.34,812.56 L554.80,812.45 L555.25,812.34 L555.71,812.23 L556.17,812.11 L556.63,811.99 L557.09,811.86 L557.55,811.73 L558.01,811.60 L558.46,811.46 L558.92,811.32 L559.38,811.18 L559.84,811.03 L560.30,810.88 L560.76,810.73 L561.22,810.58 L561.67,810.42 L562.13,810.26 L562.59,810.10 L563.05,809.93 L563.51,809.76 L563.97,809.60 L564.43,809.43 L564.89,809.25 L565.34,809.08 L565.80,808.91 L566.26,808.73 L566.72,808.56 L567.18,808.38 L567.64,808.20 L568.10,808.02 L568.55,807.85 L569.01,807.67 L569.47,807.49 L569.93,807.31 L570.39,807.13 L570.85,806.96 L571.31,806.78 L571.76,806.61 L572.22,806.43 L572.68,806.26 L573.14,806.09 L573.60,805.92 L574.06,805.75 L574.52,805.58 L574.97,805.42 L575.43,805.25 L575.89,805.09 L576.35,804.93 L576.81,804.78 L577.27,804.62 L577.73,804.47 L578.19,804.32 L578.64,804.18 L579.10,804.04 L579.56,803.90 L580.02,803.76 L580.48,803.63 L580.94,803.50 L581.40,803.38 L581.85,803.26 L582.31,803.14 L582.77,803.03 L583.23,802.92 L583.69,802.82 L584.15,802.72 L584.61,802.62 L585.06,802.53 L585.52,802.45 L585.98,802.37 L586.44,802.29 L586.90,802.22 L587.36,802.15 L587.82,802.09 L588.28,802.03 L588.73,801.98 L589.19,801.93 L589.65,801.89 L590.11,801.86 L590.57,801.82 L591.03,801.80 L591.49,801.78 L591.94,801.76 L592.40,801.75 L592.86,801.75 L593.32,801.75 L593.78,801.75 L594.24,801.77 L594.70,801.78 L595.15,801.80 L595.61,801.83 L596.07,801.86 L596.53,801.90 L596.99,801.95 L597.45,801.99 L597.91,802.05 L598.36,802.11 L598.82,802.17 L599.28,802.24 L599.74,802.31 L600.20,802.39 L600.66,802.48 L601.12,802.57 L601.58,802.66 L602.03,802.76 L602.49,802.86 L602.95,802.97 L603.41,803.08 L603.87,803.19 L604.33,803.31 L604.79,803.44 L605.24,803.57 L605.70,803.70 L606.16,803.83 L606.62,803.97 L607.08,804.12 L607.54,804.26 L608.00,804.41 L608.45,804.57 L608.91,804.72 L609.37,804.88 L609.83,805.04 L610.29,805.21 L610.75,805.37 L611.21,805.54 L611.66,805.72 L612.12,805.89 L612.58,806.07 L613.04,806.24 L613.50,806.42 L613.96,806.60 L614.42,806.79 L614.88,806.97 L615.33,807.15 L615.79,807.34 L616.25,807.52 L616.71,807.71 L617.17,807.90 L617.63,808.09 L618.09,808.27 L618.54,808.46 L619.00,808.65 L619.46,808.83 L619.92,809.02 L620.38,809.21 L620.84,809.39 L621.30,809.58 L621.75,809.76 L622.21,809.94 L622.67,810.12 L623.13,810.30 L623.59,810.47 L624.05,810.65 L624.51,810.82 L624.97,810.99 L625.42,811.16 L625.88,811.33 L626.34,811.49 L626.80,811.65 L627.26,811.81 L627.72,811.96 L628.18,812.11 L628.63,812.26 L629.09,812.41 L629.55,812.55 L630.01,812.69 L630.47,812.82 L630.93,812.95 L631.39,813.08 L631.84,813.20 L632.30,813.32 L632.76,813.43 L633.22,813.54 L633.68,813.64 L634.14,813.74 L634.60,813.84 L635.05,813.93 L635.51,814.02 L635.97,814.10 L636.43,814.18 L636.89,814.25 L637.35,814.32 L637.81,814.38 L638.27,814.44 L638.72,814.49 L639.18,814.54 L639.64,814.58 L640.10,814.62 L640.56,814.65 L641.02,814.67 L641.48,814.70 L641.93,814.71 L642.39,814.72 L642.85,814.73 L643.31,814.73 L643.77,814.73 L644.23,814.72 L644.69,814.70 L645.14,814.68 L645.60,814.66 L646.06,814.63 L646.52,814.59 L646.98,814.55 L647.44,814.51 L647.90,814.46 L648.35,814.41 L648.81,814.35 L649.27,814.28 L649.73,814.22 L650.19,814.14 L650.65,814.07 L651.11,813.99 L651.57,813.90 L652.02,813.81 L652.48,813.72 L652.94,813.62 L653.40,813.52 L653.86,813.42 L654.32,813.31 L654.78,813.20 L655.23,813.08 L655.69,812.97 L656.15,812.84 L656.61,812.72 L657.07,812.59 L657.53,812.46 L657.99,812.33 L658.44,812.19 L658.90,812.06 L659.36,811.92 L659.82,811.78 L660.28,811.63 L660.74,811.49 L661.20,811.34 L661.66,811.19 L662.11,811.04 L662.57,810.89 L663.03,810.74 L663.49,810.59 L663.95,810.43 L664.41,810.28 L664.87,810.12 L665.32,809.97 L665.78,809.81 L666.24,809.66 L666.70,809.50" fill="none" stroke="#000" stroke-width="5.2" stroke-linejoin="round" stroke-linecap="round"/>
<rect x="109" y="547" width="557.7" height="452.5" fill="none" stroke="#000" stroke-width="2"/>
<line x1="109" y1="547.0" x2="118" y2="547.0" stroke="#000" stroke-width="2"/>
<line x1="666.7" y1="547.0" x2="657.7" y2="547.0" stroke="#000" stroke-width="2"/>
<line x1="109" y1="660.1" x2="118" y2="660.1" stroke="#000" stroke-width="2"/>
<line x1="666.7" y1="660.1" x2="657.7" y2="660.1" stroke="#000" stroke-width="2"/>
<line x1="109" y1="773.2" x2="118" y2="773.2" stroke="#000" stroke-width="2"/>
<line x1="666.7" y1="773.2" x2="657.7" y2="773.2" stroke="#000" stroke-width="2"/>
<line x1="109" y1="886.4" x2="118" y2="886.4" stroke="#000" stroke-width="2"/>
<line x1="666.7" y1="886.4" x2="657.7" y2="886.4" stroke="#000" stroke-width="2"/>
<line x1="109" y1="999.5" x2="118" y2="999.5" stroke="#000" stroke-width="2"/>
<line x1="666.7" y1="999.5" x2="657.7" y2="999.5" stroke="#000" stroke-width="2"/>
<line x1="109" y1="603.6" x2="113.5" y2="603.6" stroke="#000" stroke-width="2"/>
<line x1="666.7" y1="603.6" x2="662.2" y2="603.6" stroke="#000" stroke-width="2"/>
<line x1="109" y1="716.7" x2="113.5" y2="716.7" stroke="#000" stroke-width="2"/>
<line x1="666.7" y1="716.7" x2="662.2" y2="716.7" stroke="#000" stroke-width="2"/>
<line x1="109" y1="829.8" x2="113.5" y2="829.8" stroke="#000" stroke-width="2"/>
<line x1="666.7" y1="829.8" x2="662.2" y2="829.8" stroke="#000" stroke-width="2"/>
<line x1="109" y1="942.9" x2="113.5" y2="942.9" stroke="#000" stroke-width="2"/>
<line x1="666.7" y1="942.9" x2="662.2" y2="942.9" stroke="#000" stroke-width="2"/>
<line x1="109.0" y1="999.5" x2="109.0" y2="990.5" stroke="#000" stroke-width="2"/>
<line x1="109.0" y1="547" x2="109.0" y2="556" stroke="#000" stroke-width="2"/>
<line x1="248.4" y1="999.5" x2="248.4" y2="990.5" stroke="#000" stroke-width="2"/>
<line x1="248.4" y1="547" x2="248.4" y2="556" stroke="#000" stroke-width="2"/>
<line x1="387.9" y1="999.5" x2="387.9" y2="990.5" stroke="#000" stroke-width="2"/>
<line x1="387.9" y1="547" x2="387.9" y2="556" stroke="#000" stroke-width="2"/>
<line x1="527.3" y1="999.5" x2="527.3" y2="990.5" stroke="#000" stroke-width="2"/>
<line x1="527.3" y1="547" x2="527.3" y2="556" stroke="#000" stroke-width="2"/>
<line x1="666.7" y1="999.5" x2="666.7" y2="990.5" stroke="#000" stroke-width="2"/>
<line x1="666.7" y1="547" x2="666.7" y2="556" stroke="#000" stroke-width="2"/>
<line x1="136.9" y1="999.5" x2="136.9" y2="995.0" stroke="#000" stroke-width="2"/>
<line x1="136.9" y1="547" x2="136.9" y2="551.5" stroke="#000" stroke-width="2"/>
<line x1="164.8" y1="999.5" x2="164.8" y2="995.0" stroke="#000" stroke-width="2"/>
<line x1="164.8" y1="547" x2="164.8" y2="551.5" stroke="#000" stroke-width="2"/>
<line x1="192.7" y1="999.5" x2="192.7" y2="995.0" stroke="#000" stroke-width="2"/>
<line x1="192.7" y1="547" x2="192.7" y2="551.5" stroke="#000" stroke-width="2"/>
<line x1="220.5" y1="999.5" x2="220.5" y2="995.0" stroke="#000" stroke-width="2"/>
<line x1="220.5" y1="547" x2="220.5" y2="551.5" stroke="#000" stroke-width="2"/>
<line x1="276.3" y1="999.5" x2="276.3" y2="995.0" stroke="#000" stroke-width="2"/>
<line x1="276.3" y1="547" x2="276.3" y2="551.5" stroke="#000" stroke-width="2"/>
<line x1="304.2" y1="999.5" x2="304.2" y2="995.0" stroke="#000" stroke-width="2"/>
<line x1="304.2" y1="547" x2="304.2" y2="551.5" stroke="#000" stroke-width="2"/>
<line x1="332.1" y1="999.5" x2="332.1" y2="995.0" stroke="#000" stroke-width="2"/>
<line x1="332.1" y1="547" x2="332.1" y2="551.5" stroke="#000" stroke-width="2"/>
<line x1="360.0" y1="999.5" x2="360.0" y2="995.0" stroke="#000" stroke-width="2"/>
<line x1="360.0" y1="547" x2="360.0" y2="551.5" stroke="#000" stroke-width="2"/>
<line x1="415.7" y1="999.5" x2="415.7" y2="995.0" stroke="#000" stroke-width="2"/>
<line x1="415.7" y1="547" x2="415.7" y2="551.5" stroke="#000" stroke-width="2"/>
<line x1="443.6" y1="999.5" x2="443.6" y2="995.0" stroke="#000" stroke-width="2"/>
<line x1="443.6" y1="547" x2="443.6" y2="551.5" stroke="#000" stroke-width="2"/>
<line x1="471.5" y1="999.5" x2="471.5" y2="995.0" stroke="#000" stroke-width="2"/>
<line x1="471.5" y1="547" x2="471.5" y2="551.5" stroke="#000" stroke-width="2"/>
<line x1="499.4" y1="999.5" x2="499.4" y2="995.0" stroke="#000" stroke-width="2"/>
<line x1="499.4" y1="547" x2="499.4" y2="551.5" stroke="#000" stroke-width="2"/>
<line x1="555.2" y1="999.5" x2="555.2" y2="995.0" stroke="#000" stroke-width="2"/>
<line x1="555.2" y1="547" x2="555.2" y2="551.5" stroke="#000" stroke-width="2"/>
<line x1="583.0" y1="999.5" x2="583.0" y2="995.0" stroke="#000" stroke-width="2"/>
<line x1="583.0" y1="547" x2="583.0" y2="551.5" stroke="#000" stroke-width="2"/>
<line x1="610.9" y1="999.5" x2="610.9" y2="995.0" stroke="#000" stroke-width="2"/>
<line x1="610.9" y1="547" x2="610.9" y2="551.5" stroke="#000" stroke-width="2"/>
<line x1="638.8" y1="999.5" x2="638.8" y2="995.0" stroke="#000" stroke-width="2"/>
<line x1="638.8" y1="547" x2="638.8" y2="551.5" stroke="#000" stroke-width="2"/>
<text x="100" y="555.0" font-size="29.3" text-anchor="end" >0.25</text>
<text x="100" y="668.1" font-size="29.3" text-anchor="end" >0.2</text>
<text x="100" y="781.2" font-size="29.3" text-anchor="end" >0.15</text>
<text x="100" y="894.4" font-size="29.3" text-anchor="end" >0.1</text>
<text x="100" y="1007.5" font-size="29.3" text-anchor="end" >0.05</text>
<text x="109.0" y="1031" font-size="29.3" text-anchor="middle" >0</text>
<text x="248.4" y="1031" font-size="29.3" text-anchor="middle" >0.05</text>
<text x="387.9" y="1031" font-size="29.3" text-anchor="middle" >0.1</text>
<text x="527.3" y="1031" font-size="29.3" text-anchor="middle" >0.15</text>
<text x="666.7" y="1031" font-size="29.3" text-anchor="middle" >0.2</text>
<text x="388" y="1065" font-size="33.5" text-anchor="middle" >Time (&#956;s)</text>
<text x="116.5" y="593.5" font-size="48" text-anchor="start" >(b)</text>
<text transform="translate(24.5,813.5) rotate(-90)" font-size="33">A<tspan font-size="23" dy="8.5">0</tspan><tspan dy="-8.5">P</tspan><tspan font-size="22.5" dy="8.5">ZF</tspan><tspan dy="-8.5">(t)</tspan></text>
<rect x="284.2" y="555.8" width="358.40000000000003" height="152.70000000000005" fill="#fff"/>
<defs><linearGradient id="gf" x1="0" y1="0" x2="0.25" y2="1"><stop offset="0" stop-color="#ffffff"/><stop offset="0.55" stop-color="#f4f7ec"/><stop offset="1" stop-color="#e4ebd2"/></linearGradient></defs>
<path d="M284.2,708.5 L284.2,680.3 L304.6,680.3  C305.33,680.13 307.53,678.82 309.00,679.30 C310.47,679.78 311.82,681.75 313.40,683.20 C314.98,684.65 316.80,687.80 318.50,688.00 C320.20,688.20 322.02,684.23 323.60,684.40 C325.18,684.57 326.50,687.13 328.00,689.00 C329.50,690.87 331.03,695.83 332.60,695.60 C334.17,695.37 335.73,690.15 337.40,687.60 C339.07,685.05 341.00,680.78 342.60,680.30 C344.20,679.82 345.43,683.25 347.00,684.70 C348.57,686.15 350.30,689.25 352.00,689.00 C353.70,688.75 355.48,684.77 357.20,683.20 C358.92,681.63 360.83,680.22 362.30,679.60 C363.77,678.98 364.72,680.43 366.00,679.50 C367.28,678.57 368.60,677.83 370.00,674.00 C371.40,670.17 372.93,661.37 374.40,656.50 C375.87,651.63 377.10,647.60 378.80,644.80 C380.50,642.00 382.67,640.30 384.60,639.70 C386.53,639.10 388.45,639.87 390.40,641.20 C392.35,642.53 394.23,644.87 396.30,647.70 C398.37,650.53 400.85,657.95 402.80,658.20 C404.75,658.45 406.42,653.13 408.00,649.20 C409.58,645.27 410.85,639.47 412.30,634.60 C413.75,629.73 415.63,623.88 416.70,620.00 C417.77,616.12 417.52,614.20 418.70,611.30 C419.88,608.40 422.03,604.67 423.80,602.60 C425.57,600.53 427.48,598.90 429.30,598.90 C431.12,598.90 433.18,600.53 434.70,602.60 C436.22,604.67 437.05,607.90 438.40,611.30 C439.75,614.70 441.10,619.35 442.80,623.00 C444.50,626.65 446.62,629.32 448.60,633.20 C450.58,637.08 452.97,642.78 454.70,646.30 C456.43,649.82 457.55,652.12 459.00,654.30 C460.45,656.48 461.93,657.08 463.40,659.40 C464.87,661.72 466.67,665.60 467.80,668.20 C468.93,670.80 469.07,671.43 470.20,675.00 C471.33,678.57 473.13,685.70 474.60,689.60 C476.07,693.50 477.53,696.33 479.00,698.40 C480.47,700.47 481.45,701.23 483.40,702.00 C485.35,702.77 488.77,703.35 490.70,703.00 C492.63,702.65 493.55,701.40 495.00,699.90 C496.45,698.40 498.05,695.47 499.40,694.00 C500.75,692.53 501.63,691.10 503.10,691.10 C504.57,691.10 506.50,693.03 508.20,694.00 C509.90,694.97 511.60,697.02 513.30,696.90 C515.00,696.78 516.58,694.63 518.40,693.30 C520.22,691.97 522.27,690.05 524.20,688.90 C526.13,687.75 527.57,687.62 530.00,686.40 C532.43,685.18 536.35,682.03 538.80,681.60 C541.25,681.17 543.00,683.07 544.70,683.80 C546.40,684.53 547.30,686.12 549.00,686.00 C550.70,685.88 553.27,683.80 554.90,683.10 C556.53,682.40 556.82,681.77 558.80,681.80 C560.78,681.83 564.13,683.47 566.80,683.30 C569.47,683.13 572.13,681.17 574.80,680.80 C577.47,680.43 579.88,681.90 582.80,681.10 C585.72,680.30 589.73,676.48 592.30,676.00 C594.87,675.52 596.37,677.23 598.20,678.20 C600.03,679.17 600.87,682.78 603.30,681.80 C605.73,680.82 610.00,674.48 612.80,672.30 C615.60,670.12 617.55,669.72 620.10,668.70 C622.65,667.68 625.18,666.13 628.10,666.20 C631.02,666.27 635.05,668.77 637.60,669.10 C640.15,669.43 642.43,668.35 643.40,668.20 L642.6,708.5 Z" fill="url(#gf)"/>
<path d="M304.60,680.30 C305.33,680.13 307.53,678.82 309.00,679.30 C310.47,679.78 311.82,681.75 313.40,683.20 C314.98,684.65 316.80,687.80 318.50,688.00 C320.20,688.20 322.02,684.23 323.60,684.40 C325.18,684.57 326.50,687.13 328.00,689.00 C329.50,690.87 331.03,695.83 332.60,695.60 C334.17,695.37 335.73,690.15 337.40,687.60 C339.07,685.05 341.00,680.78 342.60,680.30 C344.20,679.82 345.43,683.25 347.00,684.70 C348.57,686.15 350.30,689.25 352.00,689.00 C353.70,688.75 355.48,684.77 357.20,683.20 C358.92,681.63 360.83,680.22 362.30,679.60 C363.77,678.98 364.72,680.43 366.00,679.50 C367.28,678.57 368.60,677.83 370.00,674.00 C371.40,670.17 372.93,661.37 374.40,656.50 C375.87,651.63 377.10,647.60 378.80,644.80 C380.50,642.00 382.67,640.30 384.60,639.70 C386.53,639.10 388.45,639.87 390.40,641.20 C392.35,642.53 394.23,644.87 396.30,647.70 C398.37,650.53 400.85,657.95 402.80,658.20 C404.75,658.45 406.42,653.13 408.00,649.20 C409.58,645.27 410.85,639.47 412.30,634.60 C413.75,629.73 415.63,623.88 416.70,620.00 C417.77,616.12 417.52,614.20 418.70,611.30 C419.88,608.40 422.03,604.67 423.80,602.60 C425.57,600.53 427.48,598.90 429.30,598.90 C431.12,598.90 433.18,600.53 434.70,602.60 C436.22,604.67 437.05,607.90 438.40,611.30 C439.75,614.70 441.10,619.35 442.80,623.00 C444.50,626.65 446.62,629.32 448.60,633.20 C450.58,637.08 452.97,642.78 454.70,646.30 C456.43,649.82 457.55,652.12 459.00,654.30 C460.45,656.48 461.93,657.08 463.40,659.40 C464.87,661.72 466.67,665.60 467.80,668.20 C468.93,670.80 469.07,671.43 470.20,675.00 C471.33,678.57 473.13,685.70 474.60,689.60 C476.07,693.50 477.53,696.33 479.00,698.40 C480.47,700.47 481.45,701.23 483.40,702.00 C485.35,702.77 488.77,703.35 490.70,703.00 C492.63,702.65 493.55,701.40 495.00,699.90 C496.45,698.40 498.05,695.47 499.40,694.00 C500.75,692.53 501.63,691.10 503.10,691.10 C504.57,691.10 506.50,693.03 508.20,694.00 C509.90,694.97 511.60,697.02 513.30,696.90 C515.00,696.78 516.58,694.63 518.40,693.30 C520.22,691.97 522.27,690.05 524.20,688.90 C526.13,687.75 527.57,687.62 530.00,686.40 C532.43,685.18 536.35,682.03 538.80,681.60 C541.25,681.17 543.00,683.07 544.70,683.80 C546.40,684.53 547.30,686.12 549.00,686.00 C550.70,685.88 553.27,683.80 554.90,683.10 C556.53,682.40 556.82,681.77 558.80,681.80 C560.78,681.83 564.13,683.47 566.80,683.30 C569.47,683.13 572.13,681.17 574.80,680.80 C577.47,680.43 579.88,681.90 582.80,681.10 C585.72,680.30 589.73,676.48 592.30,676.00 C594.87,675.52 596.37,677.23 598.20,678.20 C600.03,679.17 600.87,682.78 603.30,681.80 C605.73,680.82 610.00,674.48 612.80,672.30 C615.60,670.12 617.55,669.72 620.10,668.70 C622.65,667.68 625.18,666.13 628.10,666.20 C631.02,666.27 635.05,668.77 637.60,669.10 C640.15,669.43 642.43,668.35 643.40,668.20" fill="none" stroke="#0f6b38" stroke-width="3.6" stroke-linejoin="round" stroke-linecap="round"/>
<rect x="284.2" y="555.8" width="358.40000000000003" height="152.70000000000005" fill="none" stroke="#000" stroke-width="2"/>
<line x1="284.2" y1="708.5" x2="284.2" y2="703.9" stroke="#000" stroke-width="1.6"/>
<line x1="284.2" y1="555.8" x2="284.2" y2="560.4" stroke="#000" stroke-width="1.6"/>
<line x1="298.5" y1="708.5" x2="298.5" y2="705.9" stroke="#000" stroke-width="1.6"/>
<line x1="298.5" y1="555.8" x2="298.5" y2="558.4" stroke="#000" stroke-width="1.6"/>
<line x1="312.9" y1="708.5" x2="312.9" y2="705.9" stroke="#000" stroke-width="1.6"/>
<line x1="312.9" y1="555.8" x2="312.9" y2="558.4" stroke="#000" stroke-width="1.6"/>
<line x1="327.2" y1="708.5" x2="327.2" y2="705.9" stroke="#000" stroke-width="1.6"/>
<line x1="327.2" y1="555.8" x2="327.2" y2="558.4" stroke="#000" stroke-width="1.6"/>
<line x1="341.5" y1="708.5" x2="341.5" y2="705.9" stroke="#000" stroke-width="1.6"/>
<line x1="341.5" y1="555.8" x2="341.5" y2="558.4" stroke="#000" stroke-width="1.6"/>
<line x1="355.9" y1="708.5" x2="355.9" y2="703.9" stroke="#000" stroke-width="1.6"/>
<line x1="355.9" y1="555.8" x2="355.9" y2="560.4" stroke="#000" stroke-width="1.6"/>
<line x1="370.2" y1="708.5" x2="370.2" y2="705.9" stroke="#000" stroke-width="1.6"/>
<line x1="370.2" y1="555.8" x2="370.2" y2="558.4" stroke="#000" stroke-width="1.6"/>
<line x1="384.6" y1="708.5" x2="384.6" y2="705.9" stroke="#000" stroke-width="1.6"/>
<line x1="384.6" y1="555.8" x2="384.6" y2="558.4" stroke="#000" stroke-width="1.6"/>
<line x1="398.9" y1="708.5" x2="398.9" y2="705.9" stroke="#000" stroke-width="1.6"/>
<line x1="398.9" y1="555.8" x2="398.9" y2="558.4" stroke="#000" stroke-width="1.6"/>
<line x1="413.2" y1="708.5" x2="413.2" y2="705.9" stroke="#000" stroke-width="1.6"/>
<line x1="413.2" y1="555.8" x2="413.2" y2="558.4" stroke="#000" stroke-width="1.6"/>
<line x1="427.6" y1="708.5" x2="427.6" y2="703.9" stroke="#000" stroke-width="1.6"/>
<line x1="427.6" y1="555.8" x2="427.6" y2="560.4" stroke="#000" stroke-width="1.6"/>
<line x1="441.9" y1="708.5" x2="441.9" y2="705.9" stroke="#000" stroke-width="1.6"/>
<line x1="441.9" y1="555.8" x2="441.9" y2="558.4" stroke="#000" stroke-width="1.6"/>
<line x1="456.2" y1="708.5" x2="456.2" y2="705.9" stroke="#000" stroke-width="1.6"/>
<line x1="456.2" y1="555.8" x2="456.2" y2="558.4" stroke="#000" stroke-width="1.6"/>
<line x1="470.6" y1="708.5" x2="470.6" y2="705.9" stroke="#000" stroke-width="1.6"/>
<line x1="470.6" y1="555.8" x2="470.6" y2="558.4" stroke="#000" stroke-width="1.6"/>
<line x1="484.9" y1="708.5" x2="484.9" y2="705.9" stroke="#000" stroke-width="1.6"/>
<line x1="484.9" y1="555.8" x2="484.9" y2="558.4" stroke="#000" stroke-width="1.6"/>
<line x1="499.2" y1="708.5" x2="499.2" y2="703.9" stroke="#000" stroke-width="1.6"/>
<line x1="499.2" y1="555.8" x2="499.2" y2="560.4" stroke="#000" stroke-width="1.6"/>
<line x1="513.6" y1="708.5" x2="513.6" y2="705.9" stroke="#000" stroke-width="1.6"/>
<line x1="513.6" y1="555.8" x2="513.6" y2="558.4" stroke="#000" stroke-width="1.6"/>
<line x1="527.9" y1="708.5" x2="527.9" y2="705.9" stroke="#000" stroke-width="1.6"/>
<line x1="527.9" y1="555.8" x2="527.9" y2="558.4" stroke="#000" stroke-width="1.6"/>
<line x1="542.2" y1="708.5" x2="542.2" y2="705.9" stroke="#000" stroke-width="1.6"/>
<line x1="542.2" y1="555.8" x2="542.2" y2="558.4" stroke="#000" stroke-width="1.6"/>
<line x1="556.6" y1="708.5" x2="556.6" y2="705.9" stroke="#000" stroke-width="1.6"/>
<line x1="556.6" y1="555.8" x2="556.6" y2="558.4" stroke="#000" stroke-width="1.6"/>
<line x1="570.9" y1="708.5" x2="570.9" y2="703.9" stroke="#000" stroke-width="1.6"/>
<line x1="570.9" y1="555.8" x2="570.9" y2="560.4" stroke="#000" stroke-width="1.6"/>
<line x1="585.3" y1="708.5" x2="585.3" y2="705.9" stroke="#000" stroke-width="1.6"/>
<line x1="585.3" y1="555.8" x2="585.3" y2="558.4" stroke="#000" stroke-width="1.6"/>
<line x1="599.6" y1="708.5" x2="599.6" y2="705.9" stroke="#000" stroke-width="1.6"/>
<line x1="599.6" y1="555.8" x2="599.6" y2="558.4" stroke="#000" stroke-width="1.6"/>
<line x1="613.9" y1="708.5" x2="613.9" y2="705.9" stroke="#000" stroke-width="1.6"/>
<line x1="613.9" y1="555.8" x2="613.9" y2="558.4" stroke="#000" stroke-width="1.6"/>
<line x1="628.3" y1="708.5" x2="628.3" y2="705.9" stroke="#000" stroke-width="1.6"/>
<line x1="628.3" y1="555.8" x2="628.3" y2="558.4" stroke="#000" stroke-width="1.6"/>
<line x1="642.6" y1="708.5" x2="642.6" y2="703.9" stroke="#000" stroke-width="1.6"/>
<line x1="642.6" y1="555.8" x2="642.6" y2="560.4" stroke="#000" stroke-width="1.6"/>
<line x1="284.2" y1="695.8" x2="286.4" y2="695.8" stroke="#000" stroke-width="1.6"/>
<line x1="642.6" y1="695.8" x2="640.4" y2="695.8" stroke="#000" stroke-width="1.6"/>
<line x1="284.2" y1="683.1" x2="288.4" y2="683.1" stroke="#000" stroke-width="1.6"/>
<line x1="642.6" y1="683.1" x2="638.4" y2="683.1" stroke="#000" stroke-width="1.6"/>
<line x1="284.2" y1="670.4" x2="286.4" y2="670.4" stroke="#000" stroke-width="1.6"/>
<line x1="642.6" y1="670.4" x2="640.4" y2="670.4" stroke="#000" stroke-width="1.6"/>
<line x1="284.2" y1="657.7" x2="288.4" y2="657.7" stroke="#000" stroke-width="1.6"/>
<line x1="642.6" y1="657.7" x2="638.4" y2="657.7" stroke="#000" stroke-width="1.6"/>
<line x1="284.2" y1="645.0" x2="286.4" y2="645.0" stroke="#000" stroke-width="1.6"/>
<line x1="642.6" y1="645.0" x2="640.4" y2="645.0" stroke="#000" stroke-width="1.6"/>
<line x1="284.2" y1="632.3" x2="288.4" y2="632.3" stroke="#000" stroke-width="1.6"/>
<line x1="642.6" y1="632.3" x2="638.4" y2="632.3" stroke="#000" stroke-width="1.6"/>
<line x1="284.2" y1="619.6" x2="286.4" y2="619.6" stroke="#000" stroke-width="1.6"/>
<line x1="642.6" y1="619.6" x2="640.4" y2="619.6" stroke="#000" stroke-width="1.6"/>
<line x1="284.2" y1="606.9" x2="288.4" y2="606.9" stroke="#000" stroke-width="1.6"/>
<line x1="642.6" y1="606.9" x2="638.4" y2="606.9" stroke="#000" stroke-width="1.6"/>
<line x1="284.2" y1="594.2" x2="286.4" y2="594.2" stroke="#000" stroke-width="1.6"/>
<line x1="642.6" y1="594.2" x2="640.4" y2="594.2" stroke="#000" stroke-width="1.6"/>
<line x1="284.2" y1="581.5" x2="288.4" y2="581.5" stroke="#000" stroke-width="1.6"/>
<line x1="642.6" y1="581.5" x2="638.4" y2="581.5" stroke="#000" stroke-width="1.6"/>
<line x1="284.2" y1="568.8" x2="286.4" y2="568.8" stroke="#000" stroke-width="1.6"/>
<line x1="642.6" y1="568.8" x2="640.4" y2="568.8" stroke="#000" stroke-width="1.6"/>
<text x="284.2" y="727.5" font-size="18" text-anchor="middle">0</text>
<text x="355.9" y="727.5" font-size="18" text-anchor="middle">20</text>
<text x="427.6" y="727.5" font-size="18" text-anchor="middle">40</text>
<text x="499.2" y="727.5" font-size="18" text-anchor="middle">60</text>
<text x="570.9" y="727.5" font-size="18" text-anchor="middle">80</text>
<text x="642.6" y="727.5" font-size="18" text-anchor="middle">100</text>
<text x="541" y="750" font-size="21.8" text-anchor="middle">Frequency (MHz)</text>
<text transform="translate(276.8,632.5) rotate(-90)" font-size="21.2" text-anchor="middle">Fourier amplitude</text>
<line x1="387.6" y1="604" x2="387.6" y2="628.3" stroke="#0f6b38" stroke-width="2.6"/>
<path d="M382.6,625.3 L392.6,625.3 L387.6,636.3 Z" fill="#0f6b38"/>
<line x1="429.6" y1="561.7" x2="429.6" y2="586" stroke="#0f6b38" stroke-width="2.6"/>
<path d="M424.6,583 L434.6,583 L429.6,594 Z" fill="#0f6b38"/>
<text x="343" y="601" font-size="32.5" font-style="italic" fill="#0f6b38" style="fill:#0f6b38">f</text>
<text x="352.5" y="607.5" font-size="15.8" fill="#0f6b38" style="fill:#0f6b38">AF1</text>
<text x="443.5" y="593.3" font-size="32.5" font-style="italic" fill="#0f6b38" style="fill:#0f6b38">f</text>
<text x="452" y="600" font-size="15.8" fill="#0f6b38" style="fill:#0f6b38">AF2</text>
</g>
</svg></div></body></html>
